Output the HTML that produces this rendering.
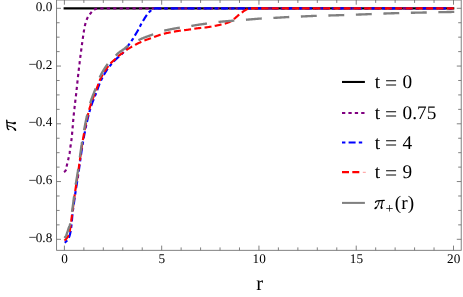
<!DOCTYPE html>
<html><head><meta charset="utf-8"><title>plot</title>
<style>html,body{margin:0;padding:0;background:#fff;}svg{display:block;}</style>
</head><body>
<div style="will-change:transform;width:463px;height:297px;background:#fff;overflow:hidden">
<svg width="463" height="297" viewBox="0 0 463 297" text-rendering="geometricPrecision">
<rect width="463" height="297" fill="#fff"/>
<g fill="none" stroke-linejoin="round">
<path d="M63.6,8.3 H454.3" stroke="#000" stroke-width="2.15"/>
<path d="M64.00,172.10 L64.42,171.75 L64.83,171.39 L65.20,171.02 L65.53,170.63 L65.82,170.23 L66.05,169.81 L66.21,169.38 L66.32,168.93 L66.41,168.45 L66.48,167.96 L66.54,167.45 L66.60,166.94 L66.67,166.42 L66.74,165.92 L66.84,165.42 L66.94,164.94 L67.07,164.45 L67.19,163.97 L67.33,163.48 L67.46,163.00 L67.60,162.52 L67.72,162.03 L67.84,161.54 L67.94,161.06 L68.05,160.57 L68.15,160.08 L68.25,159.58 L68.35,159.09 L68.46,158.60 L68.56,158.12 L68.68,157.63 L68.79,157.14 L68.91,156.65 L69.03,156.16 L69.14,155.68 L69.25,155.19 L69.35,154.70 L69.43,154.21 L69.52,153.71 L69.59,153.22 L69.67,152.73 L69.74,152.23 L69.81,151.73 L69.87,151.24 L69.94,150.74 L70.00,150.24 L70.07,149.75 L70.13,149.25 L70.19,148.75 L70.26,148.25 L70.32,147.76 L70.39,147.26 L70.46,146.77 L70.53,146.27 L70.61,145.78 L70.68,145.28 L70.76,144.78 L70.83,144.29 L70.91,143.79 L70.98,143.30 L71.06,142.80 L71.13,142.31 L71.20,141.81 L71.27,141.32 L71.34,140.82 L71.40,140.32 L71.46,139.83 L71.52,139.33 L71.58,138.83 L71.63,138.34 L71.69,137.84 L71.74,137.34 L71.79,136.84 L71.84,136.35 L71.89,135.85 L71.94,135.35 L71.99,134.85 L72.04,134.35 L72.08,133.86 L72.13,133.36 L72.18,132.86 L72.22,132.36 L72.27,131.86 L72.31,131.36 L72.35,130.86 L72.40,130.36 L72.44,129.87 L72.48,129.37 L72.52,128.87 L72.56,128.37 L72.60,127.87 L72.65,127.37 L72.69,126.87 L72.73,126.37 L72.77,125.87 L72.81,125.37 L72.85,124.87 L72.89,124.37 L72.93,123.87 L72.97,123.38 L73.01,122.88 L73.06,122.38 L73.10,121.88 L73.14,121.38 L73.18,120.88 L73.23,120.38 L73.27,119.88 L73.31,119.38 L73.36,118.88 L73.40,118.39 L73.45,117.89 L73.50,117.39 L73.54,116.89 L73.59,116.39 L73.64,115.89 L73.69,115.40 L73.74,114.90 L73.79,114.40 L73.84,113.90 L73.90,113.40 L73.95,112.91 L74.00,112.41 L74.06,111.91 L74.11,111.41 L74.17,110.91 L74.22,110.42 L74.28,109.92 L74.33,109.42 L74.39,108.92 L74.45,108.43 L74.50,107.93 L74.56,107.43 L74.62,106.94 L74.68,106.44 L74.74,105.94 L74.79,105.44 L74.85,104.95 L74.91,104.45 L74.97,103.95 L75.03,103.45 L75.09,102.96 L75.15,102.46 L75.21,101.96 L75.27,101.46 L75.32,100.97 L75.38,100.47 L75.44,99.97 L75.50,99.48 L75.56,98.98 L75.62,98.48 L75.68,97.98 L75.73,97.49 L75.79,96.99 L75.85,96.49 L75.91,95.99 L75.96,95.50 L76.02,95.00 L76.08,94.50 L76.13,94.00 L76.19,93.51 L76.24,93.01 L76.30,92.51 L76.35,92.01 L76.41,91.52 L76.46,91.02 L76.52,90.52 L76.57,90.02 L76.62,89.52 L76.68,89.03 L76.73,88.53 L76.78,88.03 L76.84,87.53 L76.89,87.04 L76.94,86.54 L76.99,86.04 L77.05,85.54 L77.10,85.04 L77.15,84.55 L77.20,84.05 L77.26,83.55 L77.31,83.05 L77.36,82.55 L77.41,82.06 L77.47,81.56 L77.52,81.06 L77.57,80.56 L77.62,80.06 L77.68,79.57 L77.73,79.07 L77.78,78.57 L77.84,78.07 L77.89,77.57 L77.94,77.08 L78.00,76.58 L78.05,76.08 L78.11,75.58 L78.16,75.09 L78.22,74.59 L78.27,74.09 L78.33,73.59 L78.38,73.10 L78.44,72.60 L78.49,72.10 L78.55,71.60 L78.61,71.11 L78.66,70.61 L78.72,70.11 L78.78,69.61 L78.84,69.12 L78.90,68.62 L78.96,68.12 L79.01,67.62 L79.07,67.13 L79.13,66.63 L79.19,66.13 L79.25,65.64 L79.31,65.14 L79.37,64.64 L79.43,64.14 L79.50,63.65 L79.56,63.15 L79.62,62.65 L79.68,62.16 L79.74,61.66 L79.80,61.16 L79.86,60.67 L79.93,60.17 L79.99,59.67 L80.05,59.18 L80.11,58.68 L80.18,58.18 L80.24,57.69 L80.30,57.19 L80.37,56.69 L80.43,56.20 L80.49,55.70 L80.56,55.20 L80.62,54.71 L80.69,54.21 L80.75,53.71 L80.81,53.22 L80.88,52.72 L80.94,52.22 L81.01,51.73 L81.07,51.23 L81.14,50.73 L81.20,50.24 L81.27,49.74 L81.33,49.24 L81.40,48.75 L81.46,48.25 L81.53,47.75 L81.59,47.26 L81.66,46.76 L81.72,46.27 L81.79,45.77 L81.86,45.27 L81.92,44.78 L81.99,44.28 L82.05,43.78 L82.12,43.29 L82.19,42.79 L82.25,42.29 L82.32,41.80 L82.39,41.30 L82.46,40.81 L82.53,40.31 L82.60,39.82 L82.67,39.32 L82.74,38.82 L82.82,38.33 L82.89,37.83 L82.96,37.34 L83.04,36.84 L83.11,36.35 L83.19,35.85 L83.26,35.36 L83.33,34.86 L83.40,34.36 L83.48,33.86 L83.55,33.37 L83.62,32.87 L83.70,32.37 L83.78,31.87 L83.85,31.38 L83.93,30.88 L84.01,30.39 L84.09,29.89 L84.18,29.40 L84.26,28.90 L84.35,28.41 L84.45,27.92 L84.54,27.43 L84.64,26.94 L84.74,26.46 L84.85,25.97 L84.96,25.49 L85.07,25.00 L85.19,24.52 L85.32,24.03 L85.45,23.55 L85.59,23.06 L85.73,22.57 L85.88,22.09 L86.03,21.60 L86.20,21.12 L86.36,20.64 L86.54,20.16 L86.71,19.69 L86.90,19.22 L87.09,18.76 L87.29,18.30 L87.49,17.85 L87.70,17.41 L87.92,16.97 L88.14,16.54 L88.39,16.11 L88.66,15.70 L88.95,15.29 L89.25,14.88 L89.57,14.49 L89.89,14.09 L90.22,13.70 L90.54,13.32 L90.87,12.94 L91.19,12.55 L91.52,12.17 L91.85,11.79 L92.20,11.41 L92.54,11.05 L92.91,10.70 L93.28,10.38 L93.66,10.08 L94.07,9.78 L94.50,9.50 L94.94,9.25 L95.39,9.04 L95.85,8.87 L96.33,8.71 L96.82,8.57 L97.31,8.48 L97.80,8.41 L98.30,8.36 L98.80,8.32 L99.31,8.30 L99.81,8.30 L100.31,8.30 L100.81,8.30 L101.31,8.30 L101.81,8.30 L102.30,8.30 L102.80,8.30 L103.30,8.30 L103.80,8.30 L104.30,8.30 L104.80,8.30 L105.30,8.30 L105.80,8.30 L106.30,8.30 L106.80,8.30 L107.30,8.30 L107.80,8.30 L108.30,8.30 L108.80,8.30 L109.30,8.30 L109.80,8.30 L110.30,8.30 L110.80,8.30 L111.30,8.30 L111.80,8.30 L112.30,8.30 L112.80,8.30 L113.30,8.30 L113.80,8.30 L114.30,8.30 L114.80,8.30 L115.30,8.30 L115.80,8.30 L116.30,8.30 L116.80,8.30 L117.30,8.30 L117.80,8.30 L118.30,8.30 L118.80,8.30 L119.30,8.30 L119.80,8.30 L120.30,8.30 L120.80,8.30 L121.30,8.30 L121.80,8.30 L122.30,8.30 L122.80,8.30 L123.30,8.30 L123.80,8.30 L124.30,8.30 L124.80,8.30 L125.30,8.30 L125.80,8.30 L126.30,8.30 L126.80,8.30 L127.30,8.30 L127.80,8.30 L128.30,8.30 L128.79,8.30 L129.29,8.30 L129.79,8.30 L130.29,8.30 L130.79,8.30 L131.29,8.30 L131.79,8.30 L132.29,8.30 L132.79,8.30 L133.29,8.30 L133.79,8.30 L134.29,8.30 L134.79,8.30 L135.29,8.30 L135.79,8.30 L136.29,8.30 L136.79,8.30 L137.29,8.30 L137.79,8.30 L138.29,8.30 L138.79,8.30 L139.29,8.30 L139.79,8.30 L140.29,8.30 L140.79,8.30 L141.29,8.30 L141.79,8.30 L142.29,8.30 L142.79,8.30 L143.29,8.30 L143.79,8.30 L144.29,8.30 L144.79,8.30 L145.29,8.30 L145.79,8.30 L146.29,8.30 L146.79,8.30 L147.29,8.30 L147.79,8.30 L148.29,8.30 L148.79,8.30 L149.29,8.30 L149.79,8.30 L150.29,8.30 L150.79,8.30 L151.29,8.30 L151.79,8.30 L152.29,8.30 L152.79,8.30 L153.29,8.30 L153.79,8.30 L154.29,8.30 L154.79,8.30 L155.29,8.30 L155.79,8.30 L156.29,8.30 L156.79,8.30 L157.29,8.30 L157.79,8.30 L158.29,8.30 L158.79,8.30 L159.29,8.30 L159.79,8.30 L160.29,8.30 L160.79,8.30 L161.29,8.30 L161.79,8.30 L162.29,8.30 L162.79,8.30 L163.29,8.30 L163.79,8.30 L164.29,8.30 L164.79,8.30 L165.29,8.30 L165.79,8.30 L166.29,8.30 L166.79,8.30 L167.29,8.30 L167.79,8.30 L168.29,8.30 L168.79,8.30 L169.29,8.30 L169.79,8.30 L170.29,8.30 L170.79,8.30 L171.29,8.30 L171.79,8.30 L172.29,8.30 L172.79,8.30 L173.29,8.30 L173.79,8.30 L174.29,8.30 L174.79,8.30 L175.29,8.30 L175.79,8.30 L176.29,8.30 L176.79,8.30 L177.29,8.30 L177.79,8.30 L178.29,8.30 L178.79,8.30 L179.29,8.30 L179.79,8.30 L180.29,8.30 L180.79,8.30 L181.29,8.30 L181.79,8.30 L182.29,8.30 L182.79,8.30 L183.29,8.30 L183.79,8.30 L184.29,8.30 L184.79,8.30 L185.29,8.30 L185.79,8.30 L186.29,8.30 L186.79,8.30 L187.29,8.30 L187.79,8.30 L188.29,8.30 L188.79,8.30 L189.29,8.30 L189.79,8.30 L190.29,8.30 L190.79,8.30 L191.29,8.30 L191.79,8.30 L192.29,8.30 L192.79,8.30 L193.29,8.30 L193.79,8.30 L194.29,8.30 L194.79,8.30 L195.29,8.30 L195.79,8.30 L196.29,8.30 L196.79,8.30 L197.29,8.30 L197.79,8.30 L198.29,8.30 L198.79,8.30 L199.29,8.30 L199.79,8.30 L200.29,8.30 L200.79,8.30 L201.29,8.30 L201.79,8.30 L202.29,8.30 L202.79,8.30 L203.29,8.30 L203.79,8.30 L204.29,8.30 L204.79,8.30 L205.29,8.30 L205.79,8.30 L206.30,8.30 L206.80,8.30 L207.30,8.30 L207.80,8.30 L208.30,8.30 L208.80,8.30 L209.30,8.30 L209.80,8.30 L210.30,8.30 L210.80,8.30 L211.30,8.30 L211.80,8.30 L212.30,8.30 L212.80,8.30 L213.30,8.30 L213.80,8.30 L214.30,8.30 L214.80,8.30 L215.30,8.30 L215.80,8.30 L216.30,8.30 L216.80,8.30 L217.30,8.30 L217.80,8.30 L218.30,8.30 L218.80,8.30 L219.30,8.30 L219.80,8.30 L220.30,8.30 L220.80,8.30 L221.30,8.30 L221.80,8.30 L222.30,8.30 L222.80,8.30 L223.30,8.30 L223.80,8.30 L224.30,8.30 L224.80,8.30 L225.30,8.30 L225.80,8.30 L226.30,8.30 L226.80,8.30 L227.30,8.30 L227.81,8.30 L228.31,8.30 L228.81,8.30 L229.31,8.30 L229.81,8.30 L230.31,8.30 L230.81,8.30 L231.31,8.30 L231.81,8.30 L232.31,8.30 L232.81,8.30 L233.31,8.30 L233.81,8.30 L234.31,8.30 L234.81,8.30 L235.31,8.30 L235.81,8.30 L236.31,8.30 L236.81,8.30 L237.31,8.30 L237.81,8.30 L238.31,8.30 L238.81,8.30 L239.31,8.30 L239.81,8.30 L240.31,8.30 L240.81,8.30 L241.31,8.30 L241.81,8.30 L242.31,8.30 L242.81,8.30 L243.32,8.30 L243.82,8.30 L244.32,8.30 L244.82,8.30 L245.32,8.30 L245.82,8.30 L246.32,8.30 L246.82,8.30 L247.32,8.30 L247.82,8.30 L248.32,8.30 L248.82,8.30 L249.32,8.30 L249.82,8.30 L250.32,8.30 L250.82,8.30 L251.32,8.30 L251.82,8.30 L252.32,8.30 L252.82,8.30 L253.32,8.30 L253.82,8.30 L254.32,8.30 L254.82,8.30 L255.33,8.30 L255.83,8.30 L256.33,8.30 L256.83,8.30 L257.33,8.30 L257.83,8.30 L258.33,8.30 L258.83,8.30 L259.33,8.30 L259.83,8.30 L260.33,8.30 L260.83,8.30 L261.33,8.30 L261.83,8.30 L262.33,8.30 L262.83,8.30 L263.33,8.30 L263.83,8.30 L264.33,8.30 L264.83,8.30 L265.33,8.30 L265.84,8.30 L266.34,8.30 L266.84,8.30 L267.34,8.30 L267.84,8.30 L268.34,8.30 L268.84,8.30 L269.34,8.30 L269.84,8.30 L270.34,8.30 L270.84,8.30 L271.34,8.30 L271.84,8.30 L272.34,8.30 L272.84,8.30 L273.34,8.30 L273.84,8.30 L274.34,8.30 L274.84,8.30 L275.35,8.30 L275.85,8.30 L276.35,8.30 L276.85,8.30 L277.35,8.30 L277.85,8.30 L278.35,8.30 L278.85,8.30 L279.35,8.30 L279.85,8.30 L280.35,8.30 L280.85,8.30 L281.35,8.30 L281.85,8.30 L282.35,8.30 L282.85,8.30 L283.36,8.30 L283.86,8.30 L284.36,8.30 L284.86,8.30 L285.36,8.30 L285.86,8.30 L286.36,8.30 L286.86,8.30 L287.36,8.30 L287.86,8.30 L288.36,8.30 L288.86,8.30 L289.36,8.30 L289.86,8.30 L290.36,8.30 L290.86,8.30 L291.37,8.30 L291.87,8.30 L292.37,8.30 L292.87,8.30 L293.37,8.30 L293.87,8.30 L294.37,8.30 L294.87,8.30 L295.37,8.30 L295.87,8.30 L296.37,8.30 L296.87,8.30 L297.37,8.30 L297.87,8.30 L298.38,8.30 L298.88,8.30 L299.38,8.30 L299.88,8.30 L300.38,8.30 L300.88,8.30 L301.38,8.30 L301.88,8.30 L302.38,8.30 L302.88,8.30 L303.38,8.30 L303.88,8.30 L304.38,8.30 L304.89,8.30 L305.39,8.30 L305.89,8.30 L306.39,8.30 L306.89,8.30 L307.39,8.30 L307.89,8.30 L308.39,8.30 L308.89,8.30 L309.39,8.30 L309.89,8.30 L310.39,8.30 L310.89,8.30 L311.40,8.30 L311.90,8.30 L312.40,8.30 L312.90,8.30 L313.40,8.30 L313.90,8.30 L314.40,8.30 L314.90,8.30 L315.40,8.30 L315.90,8.30 L316.40,8.30 L316.90,8.30 L317.41,8.30 L317.91,8.30 L318.41,8.30 L318.91,8.30 L319.41,8.30 L319.91,8.30 L320.41,8.30 L320.91,8.30 L321.41,8.30 L321.91,8.30 L322.41,8.30 L322.92,8.30 L323.42,8.30 L323.92,8.30 L324.42,8.30 L324.92,8.30 L325.42,8.30 L325.92,8.30 L326.42,8.30 L326.92,8.30 L327.42,8.30 L327.92,8.30 L328.43,8.30 L328.93,8.30 L329.43,8.30 L329.93,8.30 L330.43,8.30 L330.93,8.30 L331.43,8.30 L331.93,8.30 L332.43,8.30 L332.93,8.30 L333.44,8.30 L333.94,8.30 L334.44,8.30 L334.94,8.30 L335.44,8.30 L335.94,8.30 L336.44,8.30 L336.94,8.30 L337.44,8.30 L337.94,8.30 L338.45,8.30 L338.95,8.30 L339.45,8.30 L339.95,8.30 L340.45,8.30 L340.95,8.30 L341.45,8.30 L341.95,8.30 L342.45,8.30 L342.95,8.30 L343.46,8.30 L343.96,8.30 L344.46,8.30 L344.96,8.30 L345.46,8.30 L345.96,8.30 L346.46,8.30 L346.96,8.30 L347.46,8.30 L347.97,8.30 L348.47,8.30 L348.97,8.30 L349.47,8.30 L349.97,8.30 L350.47,8.30 L350.97,8.30 L351.47,8.30 L351.97,8.30 L352.48,8.30 L352.98,8.30 L353.48,8.30 L353.98,8.30 L354.48,8.30 L354.98,8.30 L355.48,8.30 L355.98,8.30 L356.48,8.30 L356.99,8.30 L357.49,8.30 L357.99,8.30 L358.49,8.30 L358.99,8.30 L359.49,8.30 L359.99,8.30 L360.49,8.30 L361.00,8.30 L361.50,8.30 L362.00,8.30 L362.50,8.30 L363.00,8.30 L363.50,8.30 L364.00,8.30 L364.50,8.30 L365.01,8.30 L365.51,8.30 L366.01,8.30 L366.51,8.30 L367.01,8.30 L367.51,8.30 L368.01,8.30 L368.51,8.30 L369.02,8.30 L369.52,8.30 L370.02,8.30 L370.52,8.30 L371.02,8.30 L371.52,8.30 L372.02,8.30 L372.52,8.30 L373.03,8.30 L373.53,8.30 L374.03,8.30 L374.53,8.30 L375.03,8.30 L375.53,8.30 L376.03,8.30 L376.54,8.30 L377.04,8.30 L377.54,8.30 L378.04,8.30 L378.54,8.30 L379.04,8.30 L379.54,8.30 L380.04,8.30 L380.55,8.30 L381.05,8.30 L381.55,8.30 L382.05,8.30 L382.55,8.30 L383.05,8.30 L383.55,8.30 L384.06,8.30 L384.56,8.30 L385.06,8.30 L385.56,8.30 L386.06,8.30 L386.56,8.30 L387.06,8.30 L387.57,8.30 L388.07,8.30 L388.57,8.30 L389.07,8.30 L389.57,8.30 L390.07,8.30 L390.57,8.30 L391.08,8.30 L391.58,8.30 L392.08,8.30 L392.58,8.30 L393.08,8.30 L393.58,8.30 L394.09,8.30 L394.59,8.30 L395.09,8.30 L395.59,8.30 L396.09,8.30 L396.59,8.30 L397.09,8.30 L397.60,8.30 L398.10,8.30 L398.60,8.30 L399.10,8.30 L399.60,8.30 L400.10,8.30 L400.61,8.30 L401.11,8.30 L401.61,8.30 L402.11,8.30 L402.61,8.30 L403.11,8.30 L403.61,8.30 L404.12,8.30 L404.62,8.30 L405.12,8.30 L405.62,8.30 L406.12,8.30 L406.62,8.30 L407.13,8.30 L407.63,8.30 L408.13,8.30 L408.63,8.30 L409.13,8.30 L409.63,8.30 L410.14,8.30 L410.64,8.30 L411.14,8.30 L411.64,8.30 L412.14,8.30 L412.64,8.30 L413.15,8.30 L413.65,8.30 L414.15,8.30 L414.65,8.30 L415.15,8.30 L415.65,8.30 L416.16,8.30 L416.66,8.30 L417.16,8.30 L417.66,8.30 L418.16,8.30 L418.66,8.30 L419.17,8.30 L419.67,8.30 L420.17,8.30 L420.67,8.30 L421.17,8.30 L421.67,8.30 L422.18,8.30 L422.68,8.30 L423.18,8.30 L423.68,8.30 L424.18,8.30 L424.69,8.30 L425.19,8.30 L425.69,8.30 L426.19,8.30 L426.69,8.30 L427.19,8.30 L427.70,8.30 L428.20,8.30 L428.70,8.30 L429.20,8.30 L429.70,8.30 L430.21,8.30 L430.71,8.30 L431.21,8.30 L431.71,8.30 L432.21,8.30 L432.71,8.30 L433.22,8.30 L433.72,8.30 L434.22,8.30 L434.72,8.30 L435.22,8.30 L435.73,8.30 L436.23,8.30 L436.73,8.30 L437.23,8.30 L437.73,8.30 L438.24,8.30 L438.74,8.30 L439.24,8.30 L439.74,8.30 L440.24,8.30 L440.75,8.30 L441.25,8.30 L441.75,8.30 L442.25,8.30 L442.75,8.30 L443.26,8.30 L443.76,8.30 L444.26,8.30 L444.76,8.30 L445.26,8.30 L445.77,8.30 L446.27,8.30 L446.77,8.30 L447.27,8.30 L447.77,8.30 L448.28,8.30 L448.78,8.30 L449.28,8.30 L449.78,8.30 L450.28,8.30 L450.79,8.30 L451.29,8.30 L451.79,8.30 L452.29,8.30 L452.79,8.30 L453.30,8.30 L453.80,8.30 L454.30,8.30" stroke="#800080" stroke-width="2.15" stroke-dasharray="3.2 3.24" stroke-dashoffset="0.00"/>
<path d="M64.60,242.60 L65.03,242.32 L65.44,242.03 L65.83,241.72 L66.20,241.39 L66.56,241.05 L66.91,240.69 L67.24,240.30 L67.56,239.91 L67.84,239.50 L68.09,239.08 L68.33,238.65 L68.56,238.20 L68.78,237.74 L68.99,237.28 L69.18,236.81 L69.36,236.34 L69.52,235.86 L69.66,235.39 L69.80,234.91 L69.93,234.43 L70.05,233.95 L70.17,233.46 L70.28,232.97 L70.38,232.48 L70.48,231.98 L70.58,231.49 L70.67,231.00 L70.75,230.50 L70.83,230.01 L70.91,229.52 L70.98,229.02 L71.05,228.53 L71.12,228.03 L71.19,227.53 L71.25,227.04 L71.31,226.54 L71.37,226.04 L71.43,225.54 L71.48,225.05 L71.54,224.55 L71.59,224.05 L71.64,223.55 L71.70,223.06 L71.74,222.56 L71.79,222.06 L71.84,221.56 L71.88,221.06 L71.92,220.56 L71.96,220.06 L72.00,219.57 L72.04,219.07 L72.09,218.57 L72.13,218.07 L72.17,217.57 L72.21,217.07 L72.26,216.57 L72.30,216.07 L72.35,215.58 L72.40,215.08 L72.46,214.58 L72.51,214.08 L72.57,213.59 L72.62,213.09 L72.68,212.59 L72.74,212.10 L72.80,211.60 L72.87,211.10 L72.93,210.61 L72.99,210.11 L73.06,209.62 L73.12,209.12 L73.19,208.62 L73.26,208.13 L73.33,207.63 L73.40,207.14 L73.47,206.64 L73.54,206.14 L73.60,205.65 L73.68,205.15 L73.75,204.66 L73.82,204.16 L73.89,203.67 L73.96,203.17 L74.03,202.67 L74.10,202.18 L74.17,201.68 L74.24,201.19 L74.30,200.69 L74.37,200.20 L74.44,199.70 L74.51,199.20 L74.58,198.71 L74.65,198.21 L74.71,197.72 L74.78,197.22 L74.85,196.72 L74.92,196.23 L74.99,195.73 L75.06,195.24 L75.13,194.74 L75.20,194.25 L75.27,193.75 L75.34,193.26 L75.41,192.76 L75.48,192.27 L75.56,191.77 L75.63,191.27 L75.70,190.78 L75.78,190.29 L75.85,189.79 L75.93,189.30 L76.01,188.80 L76.08,188.31 L76.16,187.81 L76.24,187.32 L76.32,186.82 L76.40,186.33 L76.48,185.84 L76.56,185.34 L76.64,184.85 L76.73,184.35 L76.81,183.86 L76.89,183.37 L76.97,182.87 L77.05,182.38 L77.13,181.89 L77.21,181.39 L77.29,180.90 L77.37,180.40 L77.45,179.91 L77.53,179.42 L77.61,178.92 L77.69,178.43 L77.77,177.93 L77.84,177.44 L77.92,176.94 L77.99,176.45 L78.07,175.95 L78.14,175.46 L78.21,174.96 L78.28,174.47 L78.35,173.97 L78.42,173.48 L78.49,172.98 L78.56,172.49 L78.63,171.99 L78.70,171.49 L78.77,171.00 L78.84,170.50 L78.91,170.01 L78.98,169.51 L79.04,169.02 L79.11,168.52 L79.18,168.02 L79.25,167.53 L79.31,167.03 L79.38,166.54 L79.45,166.04 L79.52,165.54 L79.59,165.05 L79.66,164.55 L79.72,164.06 L79.79,163.56 L79.86,163.07 L79.93,162.57 L80.00,162.08 L80.07,161.58 L80.15,161.08 L80.22,160.59 L80.29,160.09 L80.36,159.60 L80.43,159.10 L80.50,158.61 L80.57,158.11 L80.64,157.62 L80.71,157.12 L80.78,156.63 L80.85,156.13 L80.92,155.63 L81.00,155.14 L81.07,154.64 L81.14,154.15 L81.21,153.65 L81.28,153.16 L81.35,152.66 L81.43,152.17 L81.50,151.67 L81.57,151.18 L81.65,150.68 L81.72,150.19 L81.80,149.69 L81.87,149.20 L81.95,148.70 L82.02,148.21 L82.10,147.71 L82.18,147.22 L82.26,146.72 L82.33,146.23 L82.41,145.74 L82.49,145.24 L82.58,144.75 L82.66,144.26 L82.74,143.76 L82.82,143.27 L82.91,142.78 L82.99,142.28 L83.07,141.79 L83.16,141.29 L83.24,140.80 L83.33,140.31 L83.41,139.82 L83.50,139.32 L83.59,138.83 L83.67,138.34 L83.76,137.84 L83.85,137.35 L83.94,136.86 L84.03,136.36 L84.12,135.87 L84.21,135.38 L84.30,134.89 L84.39,134.39 L84.49,133.90 L84.58,133.41 L84.67,132.92 L84.77,132.43 L84.86,131.94 L84.96,131.44 L85.05,130.95 L85.15,130.46 L85.25,129.97 L85.35,129.48 L85.45,128.99 L85.55,128.50 L85.65,128.01 L85.75,127.52 L85.85,127.03 L85.95,126.54 L86.05,126.05 L86.16,125.56 L86.26,125.07 L86.37,124.58 L86.47,124.10 L86.58,123.61 L86.69,123.12 L86.80,122.63 L86.90,122.14 L87.01,121.65 L87.12,121.16 L87.23,120.67 L87.35,120.18 L87.46,119.70 L87.57,119.21 L87.69,118.72 L87.80,118.23 L87.92,117.74 L88.04,117.26 L88.15,116.77 L88.27,116.28 L88.40,115.79 L88.52,115.31 L88.64,114.82 L88.76,114.34 L88.89,113.85 L89.02,113.37 L89.15,112.88 L89.27,112.40 L89.41,111.92 L89.54,111.44 L89.67,110.95 L89.81,110.47 L89.94,109.99 L90.08,109.51 L90.22,109.03 L90.36,108.56 L90.51,108.08 L90.65,107.60 L90.80,107.13 L90.95,106.65 L91.11,106.18 L91.27,105.71 L91.43,105.24 L91.60,104.76 L91.77,104.29 L91.94,103.82 L92.11,103.35 L92.29,102.89 L92.46,102.42 L92.64,101.95 L92.82,101.48 L93.00,101.02 L93.19,100.55 L93.37,100.08 L93.55,99.62 L93.74,99.15 L93.93,98.68 L94.11,98.22 L94.30,97.75 L94.49,97.29 L94.67,96.82 L94.86,96.36 L95.05,95.89 L95.23,95.42 L95.41,94.96 L95.60,94.49 L95.78,94.02 L95.96,93.56 L96.14,93.09 L96.32,92.62 L96.49,92.15 L96.67,91.68 L96.84,91.21 L97.01,90.74 L97.18,90.27 L97.34,89.79 L97.51,89.32 L97.68,88.85 L97.84,88.37 L98.01,87.90 L98.18,87.43 L98.35,86.96 L98.52,86.48 L98.69,86.01 L98.87,85.55 L99.05,85.08 L99.23,84.61 L99.41,84.15 L99.60,83.69 L99.79,83.23 L99.98,82.77 L100.18,82.31 L100.39,81.86 L100.59,81.40 L100.80,80.95 L101.01,80.50 L101.23,80.05 L101.45,79.59 L101.67,79.14 L101.89,78.69 L102.12,78.24 L102.35,77.80 L102.58,77.35 L102.81,76.90 L103.05,76.46 L103.29,76.02 L103.53,75.58 L103.77,75.14 L104.02,74.70 L104.27,74.26 L104.52,73.83 L104.78,73.40 L105.03,72.97 L105.29,72.54 L105.55,72.11 L105.81,71.69 L106.08,71.26 L106.34,70.85 L106.61,70.43 L106.88,70.01 L107.16,69.60 L107.45,69.19 L107.73,68.78 L108.03,68.37 L108.32,67.97 L108.62,67.57 L108.93,67.17 L109.23,66.77 L109.54,66.37 L109.86,65.98 L110.17,65.59 L110.49,65.20 L110.81,64.81 L111.13,64.43 L111.45,64.04 L111.78,63.66 L112.10,63.28 L112.43,62.91 L112.76,62.54 L113.10,62.17 L113.44,61.80 L113.79,61.44 L114.13,61.07 L114.48,60.72 L114.84,60.36 L115.19,60.00 L115.54,59.65 L115.90,59.30 L116.26,58.95 L116.62,58.61 L116.99,58.27 L117.37,57.93 L117.75,57.60 L118.13,57.27 L118.52,56.95 L118.90,56.62 L119.29,56.30 L119.67,55.97 L120.06,55.64 L120.44,55.32 L120.81,54.98 L121.18,54.65 L121.54,54.31 L121.90,53.96 L122.25,53.61 L122.59,53.25 L122.92,52.88 L123.23,52.51 L123.54,52.12 L123.85,51.73 L124.14,51.33 L124.43,50.92 L124.72,50.51 L125.00,50.09 L125.28,49.67 L125.56,49.25 L125.83,48.83 L126.11,48.41 L126.39,47.99 L126.67,47.57 L126.96,47.16 L127.25,46.75 L127.54,46.34 L127.84,45.95 L128.15,45.55 L128.46,45.16 L128.77,44.76 L129.07,44.37 L129.38,43.97 L129.68,43.57 L129.97,43.16 L130.25,42.75 L130.54,42.34 L130.81,41.92 L131.09,41.51 L131.37,41.09 L131.65,40.68 L131.94,40.26 L132.22,39.85 L132.51,39.44 L132.79,39.03 L133.07,38.61 L133.33,38.19 L133.59,37.76 L133.85,37.33 L134.10,36.90 L134.35,36.46 L134.60,36.03 L134.85,35.59 L135.10,35.16 L135.35,34.73 L135.61,34.30 L135.86,33.87 L136.12,33.44 L136.38,33.01 L136.63,32.58 L136.89,32.15 L137.14,31.71 L137.39,31.28 L137.65,30.85 L137.89,30.42 L138.14,29.98 L138.39,29.54 L138.63,29.11 L138.86,28.67 L139.10,28.22 L139.32,27.78 L139.54,27.33 L139.76,26.88 L139.98,26.43 L140.20,25.98 L140.42,25.53 L140.65,25.08 L140.89,24.64 L141.13,24.21 L141.38,23.77 L141.63,23.34 L141.88,22.90 L142.13,22.47 L142.39,22.04 L142.65,21.61 L142.91,21.19 L143.17,20.76 L143.42,20.33 L143.68,19.90 L143.94,19.47 L144.20,19.03 L144.46,18.60 L144.72,18.18 L144.98,17.75 L145.25,17.32 L145.52,16.90 L145.79,16.48 L146.07,16.07 L146.35,15.66 L146.64,15.25 L146.94,14.85 L147.23,14.45 L147.54,14.05 L147.85,13.65 L148.16,13.25 L148.49,12.86 L148.82,12.48 L149.16,12.11 L149.51,11.76 L149.87,11.43 L150.24,11.10 L150.62,10.77 L151.02,10.44 L151.42,10.12 L151.84,9.81 L152.27,9.52 L152.70,9.27 L153.14,9.04 L153.59,8.87 L154.05,8.73 L154.53,8.60 L155.02,8.48 L155.52,8.39 L156.03,8.32 L156.53,8.30 L157.02,8.30 L157.52,8.30 L158.01,8.30 L158.51,8.30 L159.00,8.30 L159.50,8.30 L159.99,8.30 L160.49,8.30 L160.98,8.30 L161.48,8.30 L161.97,8.30 L162.47,8.30 L162.96,8.30 L163.46,8.30 L163.95,8.30 L164.45,8.30 L164.94,8.30 L165.44,8.30 L165.93,8.30 L166.43,8.30 L166.92,8.30 L167.42,8.30 L167.91,8.30 L168.41,8.30 L168.90,8.30 L169.40,8.30 L169.89,8.30 L170.39,8.30 L170.88,8.30 L171.38,8.30 L171.87,8.30 L172.37,8.30 L172.86,8.30 L173.36,8.30 L173.85,8.30 L174.35,8.30 L174.85,8.30 L175.34,8.30 L175.84,8.30 L176.33,8.30 L176.83,8.30 L177.32,8.30 L177.82,8.30 L178.31,8.30 L178.81,8.30 L179.30,8.30 L179.80,8.30 L180.29,8.30 L180.79,8.30 L181.28,8.30 L181.78,8.30 L182.28,8.30 L182.77,8.30 L183.27,8.30 L183.76,8.30 L184.26,8.30 L184.75,8.30 L185.25,8.30 L185.74,8.30 L186.24,8.30 L186.73,8.30 L187.23,8.30 L187.73,8.30 L188.22,8.30 L188.72,8.30 L189.21,8.30 L189.71,8.30 L190.20,8.30 L190.70,8.30 L191.20,8.30 L191.69,8.30 L192.19,8.30 L192.68,8.30 L193.18,8.30 L193.67,8.30 L194.17,8.30 L194.67,8.30 L195.16,8.30 L195.66,8.30 L196.15,8.30 L196.65,8.30 L197.14,8.30 L197.64,8.30 L198.14,8.30 L198.63,8.30 L199.13,8.30 L199.62,8.30 L200.12,8.30 L200.62,8.30 L201.11,8.30 L201.61,8.30 L202.10,8.30 L202.60,8.30 L203.10,8.30 L203.59,8.30 L204.09,8.30 L204.58,8.30 L205.08,8.30 L205.58,8.30 L206.07,8.30 L206.57,8.30 L207.06,8.30 L207.56,8.30 L208.06,8.30 L208.55,8.30 L209.05,8.30 L209.54,8.30 L210.04,8.30 L210.54,8.30 L211.03,8.30 L211.53,8.30 L212.03,8.30 L212.52,8.30 L213.02,8.30 L213.51,8.30 L214.01,8.30 L214.51,8.30 L215.00,8.30 L215.50,8.30 L216.00,8.30 L216.49,8.30 L216.99,8.30 L217.48,8.30 L217.98,8.30 L218.48,8.30 L218.97,8.30 L219.47,8.30 L219.97,8.30 L220.46,8.30 L220.96,8.30 L221.46,8.30 L221.95,8.30 L222.45,8.30 L222.95,8.30 L223.44,8.30 L223.94,8.30 L224.44,8.30 L224.93,8.30 L225.43,8.30 L225.93,8.30 L226.42,8.30 L226.92,8.30 L227.42,8.30 L227.91,8.30 L228.41,8.30 L228.91,8.30 L229.40,8.30 L229.90,8.30 L230.40,8.30 L230.89,8.30 L231.39,8.30 L231.89,8.30 L232.38,8.30 L232.88,8.30 L233.38,8.30 L233.87,8.30 L234.37,8.30 L234.87,8.30 L235.37,8.30 L235.86,8.30 L236.36,8.30 L236.86,8.30 L237.35,8.30 L237.85,8.30 L238.35,8.30 L238.85,8.30 L239.34,8.30 L239.84,8.30 L240.34,8.30 L240.83,8.30 L241.33,8.30 L241.83,8.30 L242.33,8.30 L242.82,8.30 L243.32,8.30 L243.82,8.30 L244.31,8.30 L244.81,8.30 L245.31,8.30 L245.81,8.30 L246.30,8.30 L246.80,8.30 L247.30,8.30 L247.80,8.30 L248.29,8.30 L248.79,8.30 L249.29,8.30 L249.79,8.30 L250.28,8.30 L250.78,8.30 L251.28,8.30 L251.78,8.30 L252.27,8.30 L252.77,8.30 L253.27,8.30 L253.77,8.30 L254.26,8.30 L254.76,8.30 L255.26,8.30 L255.76,8.30 L256.25,8.30 L256.75,8.30 L257.25,8.30 L257.75,8.30 L258.25,8.30 L258.74,8.30 L259.24,8.30 L259.74,8.30 L260.24,8.30 L260.74,8.30 L261.23,8.30 L261.73,8.30 L262.23,8.30 L262.73,8.30 L263.23,8.30 L263.72,8.30 L264.22,8.30 L264.72,8.30 L265.22,8.30 L265.72,8.30 L266.21,8.30 L266.71,8.30 L267.21,8.30 L267.71,8.30 L268.21,8.30 L268.70,8.30 L269.20,8.30 L269.70,8.30 L270.20,8.30 L270.70,8.30 L271.20,8.30 L271.69,8.30 L272.19,8.30 L272.69,8.30 L273.19,8.30 L273.69,8.30 L274.19,8.30 L274.68,8.30 L275.18,8.30 L275.68,8.30 L276.18,8.30 L276.68,8.30 L277.18,8.30 L277.68,8.30 L278.17,8.30 L278.67,8.30 L279.17,8.30 L279.67,8.30 L280.17,8.30 L280.67,8.30 L281.17,8.30 L281.67,8.30 L282.16,8.30 L282.66,8.30 L283.16,8.30 L283.66,8.30 L284.16,8.30 L284.66,8.30 L285.16,8.30 L285.66,8.30 L286.16,8.30 L286.65,8.30 L287.15,8.30 L287.65,8.30 L288.15,8.30 L288.65,8.30 L289.15,8.30 L289.65,8.30 L290.15,8.30 L290.65,8.30 L291.15,8.30 L291.65,8.30 L292.14,8.30 L292.64,8.30 L293.14,8.30 L293.64,8.30 L294.14,8.30 L294.64,8.30 L295.14,8.30 L295.64,8.30 L296.14,8.30 L296.64,8.30 L297.14,8.30 L297.64,8.30 L298.14,8.30 L298.64,8.30 L299.14,8.30 L299.64,8.30 L300.13,8.30 L300.63,8.30 L301.13,8.30 L301.63,8.30 L302.13,8.30 L302.63,8.30 L303.13,8.30 L303.63,8.30 L304.13,8.30 L304.63,8.30 L305.13,8.30 L305.63,8.30 L306.13,8.30 L306.63,8.30 L307.13,8.30 L307.63,8.30 L308.13,8.30 L308.63,8.30 L309.13,8.30 L309.63,8.30 L310.13,8.30 L310.63,8.30 L311.13,8.30 L311.63,8.30 L312.13,8.30 L312.63,8.30 L313.13,8.30 L313.63,8.30 L314.13,8.30 L314.63,8.30 L315.13,8.30 L315.63,8.30 L316.13,8.30 L316.63,8.30 L317.13,8.30 L317.63,8.30 L318.14,8.30 L318.64,8.30 L319.14,8.30 L319.64,8.30 L320.14,8.30 L320.64,8.30 L321.14,8.30 L321.64,8.30 L322.14,8.30 L322.64,8.30 L323.14,8.30 L323.64,8.30 L324.14,8.30 L324.64,8.30 L325.14,8.30 L325.64,8.30 L326.15,8.30 L326.65,8.30 L327.15,8.30 L327.65,8.30 L328.15,8.30 L328.65,8.30 L329.15,8.30 L329.65,8.30 L330.15,8.30 L330.65,8.30 L331.15,8.30 L331.66,8.30 L332.16,8.30 L332.66,8.30 L333.16,8.30 L333.66,8.30 L334.16,8.30 L334.66,8.30 L335.16,8.30 L335.67,8.30 L336.17,8.30 L336.67,8.30 L337.17,8.30 L337.67,8.30 L338.17,8.30 L338.67,8.30 L339.18,8.30 L339.68,8.30 L340.18,8.30 L340.68,8.30 L341.18,8.30 L341.68,8.30 L342.19,8.30 L342.69,8.30 L343.19,8.30 L343.69,8.30 L344.19,8.30 L344.69,8.30 L345.20,8.30 L345.70,8.30 L346.20,8.30 L346.70,8.30 L347.20,8.30 L347.71,8.30 L348.21,8.30 L348.71,8.30 L349.21,8.30 L349.71,8.30 L350.22,8.30 L350.72,8.30 L351.22,8.30 L351.72,8.30 L352.22,8.30 L352.73,8.30 L353.23,8.30 L353.73,8.30 L354.23,8.30 L354.74,8.30 L355.24,8.30 L355.74,8.30 L356.24,8.30 L356.75,8.30 L357.25,8.30 L357.75,8.30 L358.25,8.30 L358.76,8.30 L359.26,8.30 L359.76,8.30 L360.26,8.30 L360.77,8.30 L361.27,8.30 L361.77,8.30 L362.27,8.30 L362.78,8.30 L363.28,8.30 L363.78,8.30 L364.29,8.30 L364.79,8.30 L365.29,8.30 L365.79,8.30 L366.30,8.30 L366.80,8.30 L367.30,8.30 L367.81,8.30 L368.31,8.30 L368.81,8.30 L369.32,8.30 L369.82,8.30 L370.32,8.30 L370.83,8.30 L371.33,8.30 L371.83,8.30 L372.34,8.30 L372.84,8.30 L373.34,8.30 L373.85,8.30 L374.35,8.30 L374.85,8.30 L375.36,8.30 L375.86,8.30 L376.36,8.30 L376.87,8.30 L377.37,8.30 L377.87,8.30 L378.38,8.30 L378.88,8.30 L379.39,8.30 L379.89,8.30 L380.39,8.30 L380.90,8.30 L381.40,8.30 L381.90,8.30 L382.41,8.30 L382.91,8.30 L383.42,8.30 L383.92,8.30 L384.42,8.30 L384.93,8.30 L385.43,8.30 L385.94,8.30 L386.44,8.30 L386.95,8.30 L387.45,8.30 L387.95,8.30 L388.46,8.30 L388.96,8.30 L389.47,8.30 L389.97,8.30 L390.48,8.30 L390.98,8.30 L391.48,8.30 L391.99,8.30 L392.49,8.30 L393.00,8.30 L393.50,8.30 L394.01,8.30 L394.51,8.30 L395.02,8.30 L395.52,8.30 L396.03,8.30 L396.53,8.30 L397.04,8.30 L397.54,8.30 L398.05,8.30 L398.55,8.30 L399.06,8.30 L399.56,8.30 L400.07,8.30 L400.57,8.30 L401.08,8.30 L401.58,8.30 L402.09,8.30 L402.59,8.30 L403.10,8.30 L403.60,8.30 L404.11,8.30 L404.61,8.30 L405.12,8.30 L405.62,8.30 L406.13,8.30 L406.63,8.30 L407.14,8.30 L407.65,8.30 L408.15,8.30 L408.66,8.30 L409.16,8.30 L409.67,8.30 L410.17,8.30 L410.68,8.30 L411.19,8.30 L411.69,8.30 L412.20,8.30 L412.70,8.30 L413.21,8.30 L413.71,8.30 L414.22,8.30 L414.73,8.30 L415.23,8.30 L415.74,8.30 L416.24,8.30 L416.75,8.30 L417.26,8.30 L417.76,8.30 L418.27,8.30 L418.78,8.30 L419.28,8.30 L419.79,8.30 L420.29,8.30 L420.80,8.30 L421.31,8.30 L421.81,8.30 L422.32,8.30 L422.83,8.30 L423.33,8.30 L423.84,8.30 L424.35,8.30 L424.85,8.30 L425.36,8.30 L425.87,8.30 L426.37,8.30 L426.88,8.30 L427.39,8.30 L427.89,8.30 L428.40,8.30 L428.91,8.30 L429.41,8.30 L429.92,8.30 L430.43,8.30 L430.94,8.30 L431.44,8.30 L431.95,8.30 L432.46,8.30 L432.96,8.30 L433.47,8.30 L433.98,8.30 L434.49,8.30 L434.99,8.30 L435.50,8.30 L436.01,8.30 L436.52,8.30 L437.02,8.30 L437.53,8.30 L438.04,8.30 L438.55,8.30 L439.05,8.30 L439.56,8.30 L440.07,8.30 L440.58,8.30 L441.08,8.30 L441.59,8.30 L442.10,8.30 L442.61,8.30 L443.12,8.30 L443.62,8.30 L444.13,8.30 L444.64,8.30 L445.15,8.30 L445.66,8.30 L446.16,8.30 L446.67,8.30 L447.18,8.30 L447.69,8.30 L448.20,8.30 L448.71,8.30 L449.21,8.30 L449.72,8.30 L450.23,8.30 L450.74,8.30 L451.25,8.30 L451.76,8.30 L452.27,8.30 L452.77,8.30 L453.28,8.30 L453.79,8.30 L454.30,8.30" stroke="#0000ff" stroke-width="2.15" stroke-dasharray="3.4 3.1014 7.15 3.1014" stroke-dashoffset="0.00"/>
<path d="M64.30,240.40 L64.71,240.11 L65.11,239.80 L65.49,239.48 L65.86,239.14 L66.21,238.79 L66.55,238.42 L66.88,238.03 L67.18,237.63 L67.45,237.22 L67.69,236.79 L67.93,236.35 L68.15,235.90 L68.36,235.43 L68.55,234.96 L68.73,234.49 L68.90,234.02 L69.06,233.54 L69.20,233.07 L69.33,232.59 L69.46,232.11 L69.58,231.62 L69.69,231.13 L69.80,230.64 L69.91,230.15 L70.00,229.65 L70.10,229.16 L70.19,228.67 L70.27,228.17 L70.35,227.68 L70.43,227.19 L70.50,226.69 L70.57,226.20 L70.63,225.70 L70.69,225.20 L70.75,224.71 L70.81,224.21 L70.87,223.71 L70.93,223.21 L70.99,222.72 L71.05,222.22 L71.11,221.72 L71.17,221.22 L71.24,220.73 L71.30,220.23 L71.37,219.74 L71.44,219.24 L71.50,218.74 L71.57,218.25 L71.64,217.75 L71.71,217.26 L71.78,216.76 L71.84,216.26 L71.91,215.77 L71.98,215.27 L72.05,214.78 L72.12,214.28 L72.18,213.78 L72.25,213.29 L72.32,212.79 L72.39,212.30 L72.45,211.80 L72.52,211.30 L72.59,210.81 L72.65,210.31 L72.72,209.82 L72.78,209.32 L72.85,208.82 L72.91,208.33 L72.98,207.83 L73.04,207.33 L73.11,206.84 L73.17,206.34 L73.24,205.85 L73.30,205.35 L73.37,204.85 L73.43,204.36 L73.50,203.86 L73.56,203.36 L73.63,202.87 L73.69,202.37 L73.76,201.88 L73.82,201.38 L73.89,200.88 L73.96,200.39 L74.02,199.89 L74.09,199.39 L74.16,198.90 L74.22,198.40 L74.29,197.91 L74.36,197.41 L74.43,196.91 L74.49,196.42 L74.56,195.92 L74.63,195.43 L74.70,194.93 L74.77,194.44 L74.84,193.94 L74.90,193.44 L74.97,192.95 L75.04,192.45 L75.11,191.96 L75.18,191.46 L75.25,190.97 L75.32,190.47 L75.40,189.97 L75.47,189.48 L75.54,188.98 L75.61,188.49 L75.69,187.99 L75.76,187.50 L75.84,187.00 L75.91,186.51 L75.99,186.01 L76.07,185.52 L76.14,185.03 L76.22,184.53 L76.30,184.04 L76.38,183.54 L76.46,183.05 L76.54,182.56 L76.63,182.06 L76.71,181.57 L76.79,181.07 L76.87,180.58 L76.95,180.09 L77.03,179.59 L77.11,179.10 L77.19,178.60 L77.28,178.11 L77.36,177.62 L77.44,177.12 L77.51,176.63 L77.59,176.13 L77.67,175.64 L77.75,175.14 L77.83,174.65 L77.90,174.15 L77.98,173.66 L78.05,173.16 L78.12,172.67 L78.20,172.17 L78.27,171.68 L78.34,171.18 L78.41,170.69 L78.48,170.19 L78.55,169.70 L78.62,169.20 L78.69,168.71 L78.76,168.21 L78.82,167.71 L78.89,167.22 L78.96,166.72 L79.03,166.23 L79.10,165.73 L79.16,165.23 L79.23,164.74 L79.30,164.24 L79.37,163.75 L79.44,163.25 L79.50,162.75 L79.57,162.26 L79.64,161.76 L79.71,161.27 L79.78,160.77 L79.85,160.28 L79.92,159.78 L79.99,159.28 L80.06,158.79 L80.13,158.29 L80.20,157.80 L80.27,157.30 L80.34,156.81 L80.41,156.31 L80.48,155.82 L80.56,155.32 L80.63,154.82 L80.70,154.33 L80.77,153.83 L80.84,153.34 L80.91,152.84 L80.98,152.35 L81.05,151.85 L81.12,151.36 L81.19,150.86 L81.27,150.36 L81.34,149.87 L81.41,149.37 L81.48,148.88 L81.56,148.38 L81.63,147.89 L81.71,147.39 L81.78,146.90 L81.85,146.40 L81.93,145.91 L82.01,145.41 L82.08,144.92 L82.16,144.42 L82.24,143.93 L82.32,143.44 L82.40,142.94 L82.48,142.45 L82.56,141.95 L82.64,141.46 L82.72,140.97 L82.80,140.47 L82.89,139.98 L82.97,139.49 L83.05,138.99 L83.14,138.50 L83.22,138.01 L83.31,137.51 L83.40,137.02 L83.48,136.53 L83.57,136.03 L83.66,135.54 L83.74,135.05 L83.83,134.55 L83.92,134.06 L84.01,133.57 L84.10,133.08 L84.19,132.58 L84.28,132.09 L84.37,131.60 L84.47,131.11 L84.56,130.61 L84.65,130.12 L84.75,129.63 L84.84,129.14 L84.94,128.65 L85.03,128.16 L85.13,127.67 L85.23,127.17 L85.33,126.68 L85.43,126.19 L85.52,125.70 L85.62,125.21 L85.73,124.72 L85.83,124.23 L85.93,123.74 L86.03,123.25 L86.14,122.76 L86.24,122.27 L86.35,121.79 L86.45,121.30 L86.56,120.81 L86.67,120.32 L86.77,119.83 L86.88,119.34 L86.99,118.85 L87.10,118.36 L87.21,117.87 L87.32,117.39 L87.44,116.90 L87.55,116.41 L87.66,115.92 L87.78,115.43 L87.89,114.94 L88.01,114.46 L88.13,113.97 L88.25,113.48 L88.37,112.99 L88.49,112.51 L88.61,112.02 L88.74,111.54 L88.86,111.05 L88.99,110.57 L89.12,110.08 L89.25,109.60 L89.38,109.12 L89.51,108.63 L89.64,108.15 L89.78,107.67 L89.92,107.19 L90.05,106.71 L90.19,106.23 L90.33,105.75 L90.48,105.28 L90.62,104.80 L90.77,104.32 L90.92,103.85 L91.08,103.38 L91.24,102.90 L91.40,102.43 L91.57,101.96 L91.73,101.49 L91.90,101.02 L92.08,100.55 L92.25,100.08 L92.43,99.61 L92.60,99.14 L92.78,98.68 L92.97,98.21 L93.15,97.74 L93.33,97.28 L93.52,96.81 L93.70,96.34 L93.89,95.88 L94.08,95.41 L94.26,94.95 L94.45,94.48 L94.64,94.01 L94.82,93.55 L95.01,93.08 L95.19,92.62 L95.38,92.15 L95.56,91.68 L95.74,91.22 L95.93,90.75 L96.10,90.28 L96.28,89.81 L96.46,89.34 L96.63,88.87 L96.80,88.40 L96.97,87.93 L97.14,87.46 L97.31,86.98 L97.47,86.51 L97.64,86.03 L97.80,85.56 L97.97,85.08 L98.13,84.61 L98.30,84.14 L98.47,83.66 L98.64,83.19 L98.82,82.72 L98.99,82.26 L99.18,81.79 L99.36,81.33 L99.55,80.87 L99.74,80.41 L99.94,79.95 L100.14,79.50 L100.35,79.05 L100.57,78.60 L100.79,78.16 L101.01,77.71 L101.24,77.26 L101.47,76.82 L101.70,76.38 L101.94,75.94 L102.19,75.50 L102.43,75.06 L102.68,74.62 L102.94,74.19 L103.19,73.75 L103.45,73.32 L103.71,72.89 L103.98,72.46 L104.24,72.04 L104.51,71.61 L104.78,71.19 L105.06,70.77 L105.33,70.35 L105.61,69.93 L105.88,69.51 L106.16,69.10 L106.44,68.69 L106.72,68.28 L107.01,67.87 L107.30,67.46 L107.60,67.05 L107.90,66.65 L108.20,66.25 L108.51,65.85 L108.82,65.46 L109.14,65.07 L109.46,64.68 L109.78,64.30 L110.11,63.92 L110.44,63.55 L110.78,63.19 L111.13,62.83 L111.48,62.48 L111.84,62.14 L112.21,61.79 L112.57,61.46 L112.95,61.12 L113.32,60.78 L113.69,60.45 L114.07,60.11 L114.44,59.78 L114.81,59.44 L115.18,59.10 L115.54,58.75 L115.90,58.40 L116.25,58.04 L116.60,57.68 L116.95,57.32 L117.30,56.96 L117.66,56.61 L118.03,56.29 L118.41,55.97 L118.80,55.66 L119.20,55.36 L119.60,55.06 L120.01,54.77 L120.42,54.49 L120.84,54.20 L121.25,53.92 L121.67,53.64 L122.09,53.36 L122.50,53.08 L122.92,52.79 L123.32,52.50 L123.73,52.20 L124.13,51.90 L124.52,51.59 L124.91,51.27 L125.30,50.95 L125.68,50.64 L126.07,50.32 L126.47,50.02 L126.87,49.72 L127.28,49.44 L127.69,49.16 L128.11,48.88 L128.53,48.61 L128.96,48.34 L129.38,48.08 L129.81,47.82 L130.24,47.56 L130.68,47.31 L131.11,47.05 L131.54,46.80 L131.98,46.56 L132.41,46.31 L132.85,46.07 L133.29,45.82 L133.73,45.58 L134.17,45.35 L134.61,45.11 L135.05,44.88 L135.50,44.64 L135.94,44.41 L136.39,44.19 L136.84,43.96 L137.28,43.74 L137.73,43.52 L138.18,43.30 L138.63,43.09 L139.09,42.88 L139.54,42.66 L140.00,42.45 L140.45,42.25 L140.91,42.04 L141.37,41.84 L141.82,41.64 L142.28,41.44 L142.75,41.24 L143.21,41.05 L143.67,40.85 L144.13,40.66 L144.60,40.48 L145.06,40.29 L145.53,40.11 L146.00,39.94 L146.47,39.77 L146.94,39.60 L147.41,39.43 L147.88,39.27 L148.36,39.11 L148.83,38.94 L149.30,38.78 L149.78,38.61 L150.25,38.44 L150.71,38.26 L151.18,38.09 L151.65,37.91 L152.12,37.74 L152.59,37.56 L153.06,37.39 L153.53,37.21 L154.00,37.03 L154.47,36.86 L154.93,36.69 L155.40,36.51 L155.88,36.34 L156.35,36.18 L156.82,36.00 L157.29,35.83 L157.76,35.66 L158.23,35.49 L158.70,35.31 L159.17,35.14 L159.65,34.98 L160.12,34.81 L160.59,34.66 L161.07,34.50 L161.55,34.36 L162.03,34.22 L162.51,34.09 L162.99,33.96 L163.47,33.84 L163.96,33.71 L164.44,33.60 L164.93,33.48 L165.42,33.37 L165.91,33.26 L166.40,33.15 L166.89,33.04 L167.38,32.94 L167.87,32.83 L168.36,32.73 L168.85,32.63 L169.34,32.53 L169.83,32.43 L170.32,32.34 L170.81,32.24 L171.31,32.14 L171.80,32.05 L172.29,31.95 L172.78,31.86 L173.27,31.76 L173.76,31.67 L174.26,31.58 L174.75,31.49 L175.24,31.40 L175.74,31.32 L176.23,31.23 L176.72,31.15 L177.22,31.07 L177.71,30.99 L178.21,30.92 L178.70,30.84 L179.20,30.77 L179.69,30.70 L180.19,30.64 L180.68,30.58 L181.18,30.52 L181.68,30.46 L182.18,30.40 L182.67,30.35 L183.17,30.29 L183.67,30.24 L184.17,30.18 L184.66,30.13 L185.16,30.07 L185.66,30.01 L186.16,29.96 L186.65,29.90 L187.15,29.83 L187.65,29.77 L188.14,29.70 L188.64,29.63 L189.13,29.56 L189.63,29.48 L190.12,29.41 L190.62,29.33 L191.11,29.25 L191.61,29.17 L192.10,29.10 L192.60,29.02 L193.09,28.94 L193.58,28.86 L194.08,28.78 L194.57,28.71 L195.07,28.63 L195.56,28.56 L196.06,28.49 L196.56,28.42 L197.05,28.36 L197.55,28.29 L198.04,28.23 L198.54,28.18 L199.04,28.12 L199.54,28.07 L200.04,28.02 L200.53,27.97 L201.03,27.92 L201.53,27.87 L202.03,27.82 L202.53,27.77 L203.03,27.73 L203.52,27.68 L204.02,27.63 L204.52,27.57 L205.02,27.52 L205.51,27.46 L206.01,27.40 L206.51,27.34 L207.00,27.27 L207.50,27.20 L207.99,27.13 L208.49,27.05 L208.98,26.98 L209.47,26.89 L209.97,26.81 L210.46,26.72 L210.96,26.64 L211.45,26.55 L211.94,26.45 L212.43,26.36 L212.92,26.27 L213.42,26.17 L213.91,26.08 L214.40,25.98 L214.89,25.88 L215.38,25.78 L215.87,25.69 L216.36,25.59 L216.85,25.49 L217.34,25.39 L217.84,25.29 L218.33,25.18 L218.82,25.08 L219.31,24.97 L219.80,24.86 L220.29,24.75 L220.77,24.64 L221.26,24.53 L221.75,24.41 L222.23,24.29 L222.72,24.16 L223.20,24.04 L223.68,23.91 L224.16,23.77 L224.65,23.64 L225.13,23.50 L225.62,23.36 L226.11,23.21 L226.59,23.07 L227.08,22.91 L227.56,22.75 L228.03,22.59 L228.50,22.41 L228.97,22.23 L229.43,22.04 L229.88,21.85 L230.32,21.64 L230.75,21.42 L231.17,21.17 L231.58,20.90 L231.99,20.61 L232.39,20.30 L232.79,19.99 L233.18,19.66 L233.57,19.34 L233.96,19.01 L234.36,18.69 L234.75,18.38 L235.14,18.07 L235.52,17.75 L235.90,17.42 L236.28,17.09 L236.66,16.76 L237.03,16.43 L237.41,16.09 L237.78,15.76 L238.16,15.43 L238.54,15.10 L238.92,14.77 L239.30,14.45 L239.68,14.13 L240.07,13.82 L240.47,13.52 L240.87,13.22 L241.27,12.93 L241.68,12.63 L242.09,12.34 L242.50,12.05 L242.91,11.76 L243.33,11.48 L243.75,11.21 L244.17,10.94 L244.60,10.68 L245.03,10.42 L245.46,10.18 L245.90,9.93 L246.34,9.67 L246.78,9.40 L247.23,9.15 L247.68,8.91 L248.14,8.72 L248.61,8.57 L249.08,8.49 L249.57,8.44 L250.06,8.39 L250.57,8.35 L251.07,8.32 L251.58,8.30 L252.08,8.30 L252.58,8.30 L253.08,8.30 L253.58,8.30 L254.08,8.30 L254.58,8.30 L255.08,8.30 L255.58,8.30 L256.08,8.30 L256.58,8.30 L257.08,8.30 L257.58,8.30 L258.08,8.30 L258.58,8.30 L259.08,8.30 L259.58,8.30 L260.08,8.30 L260.58,8.30 L261.08,8.30 L261.58,8.30 L262.08,8.30 L262.58,8.30 L263.08,8.30 L263.58,8.30 L264.08,8.30 L264.58,8.30 L265.08,8.30 L265.58,8.30 L266.08,8.30 L266.58,8.30 L267.08,8.30 L267.58,8.30 L268.08,8.30 L268.58,8.30 L269.08,8.30 L269.58,8.30 L270.08,8.30 L270.58,8.30 L271.08,8.30 L271.58,8.30 L272.08,8.30 L272.58,8.30 L273.08,8.30 L273.58,8.30 L274.08,8.30 L274.58,8.30 L275.08,8.30 L275.58,8.30 L276.08,8.30 L276.58,8.30 L277.08,8.30 L277.58,8.30 L278.08,8.30 L278.58,8.30 L279.08,8.30 L279.58,8.30 L280.08,8.30 L280.58,8.30 L281.08,8.30 L281.58,8.30 L282.08,8.30 L282.58,8.30 L283.08,8.30 L283.58,8.30 L284.08,8.30 L284.57,8.30 L285.07,8.30 L285.57,8.30 L286.07,8.30 L286.57,8.30 L287.07,8.30 L287.57,8.30 L288.07,8.30 L288.57,8.30 L289.07,8.30 L289.57,8.30 L290.07,8.30 L290.57,8.30 L291.07,8.30 L291.57,8.30 L292.07,8.30 L292.57,8.30 L293.07,8.30 L293.57,8.30 L294.07,8.30 L294.57,8.30 L295.07,8.30 L295.57,8.30 L296.07,8.30 L296.57,8.30 L297.07,8.30 L297.57,8.30 L298.07,8.30 L298.57,8.30 L299.07,8.30 L299.57,8.30 L300.07,8.30 L300.57,8.30 L301.07,8.30 L301.57,8.30 L302.08,8.30 L302.58,8.30 L303.08,8.30 L303.58,8.30 L304.08,8.30 L304.58,8.30 L305.08,8.30 L305.58,8.30 L306.08,8.30 L306.58,8.30 L307.08,8.30 L307.58,8.30 L308.08,8.30 L308.58,8.30 L309.08,8.30 L309.58,8.30 L310.08,8.30 L310.58,8.30 L311.08,8.30 L311.58,8.30 L312.08,8.30 L312.58,8.30 L313.08,8.30 L313.58,8.30 L314.08,8.30 L314.58,8.30 L315.08,8.30 L315.58,8.30 L316.08,8.30 L316.58,8.30 L317.08,8.30 L317.58,8.30 L318.08,8.30 L318.58,8.30 L319.08,8.30 L319.58,8.30 L320.08,8.30 L320.58,8.30 L321.08,8.30 L321.58,8.30 L322.08,8.30 L322.58,8.30 L323.08,8.30 L323.58,8.30 L324.08,8.30 L324.58,8.30 L325.08,8.30 L325.58,8.30 L326.08,8.30 L326.58,8.30 L327.08,8.30 L327.58,8.30 L328.08,8.30 L328.58,8.30 L329.08,8.30 L329.58,8.30 L330.08,8.30 L330.58,8.30 L331.08,8.30 L331.58,8.30 L332.08,8.30 L332.58,8.30 L333.09,8.30 L333.59,8.30 L334.09,8.30 L334.59,8.30 L335.09,8.30 L335.59,8.30 L336.09,8.30 L336.59,8.30 L337.09,8.30 L337.59,8.30 L338.09,8.30 L338.59,8.30 L339.09,8.30 L339.59,8.30 L340.09,8.30 L340.59,8.30 L341.09,8.30 L341.59,8.30 L342.09,8.30 L342.59,8.30 L343.09,8.30 L343.59,8.30 L344.09,8.30 L344.59,8.30 L345.09,8.30 L345.59,8.30 L346.09,8.30 L346.59,8.30 L347.09,8.30 L347.59,8.30 L348.10,8.30 L348.60,8.30 L349.10,8.30 L349.60,8.30 L350.10,8.30 L350.60,8.30 L351.10,8.30 L351.60,8.30 L352.10,8.30 L352.60,8.30 L353.10,8.30 L353.60,8.30 L354.10,8.30 L354.60,8.30 L355.10,8.30 L355.60,8.30 L356.10,8.30 L356.60,8.30 L357.10,8.30 L357.60,8.30 L358.10,8.30 L358.60,8.30 L359.11,8.30 L359.61,8.30 L360.11,8.30 L360.61,8.30 L361.11,8.30 L361.61,8.30 L362.11,8.30 L362.61,8.30 L363.11,8.30 L363.61,8.30 L364.11,8.30 L364.61,8.30 L365.11,8.30 L365.61,8.30 L366.11,8.30 L366.61,8.30 L367.11,8.30 L367.61,8.30 L368.11,8.30 L368.62,8.30 L369.12,8.30 L369.62,8.30 L370.12,8.30 L370.62,8.30 L371.12,8.30 L371.62,8.30 L372.12,8.30 L372.62,8.30 L373.12,8.30 L373.62,8.30 L374.12,8.30 L374.62,8.30 L375.12,8.30 L375.62,8.30 L376.12,8.30 L376.63,8.30 L377.13,8.30 L377.63,8.30 L378.13,8.30 L378.63,8.30 L379.13,8.30 L379.63,8.30 L380.13,8.30 L380.63,8.30 L381.13,8.30 L381.63,8.30 L382.13,8.30 L382.63,8.30 L383.13,8.30 L383.64,8.30 L384.14,8.30 L384.64,8.30 L385.14,8.30 L385.64,8.30 L386.14,8.30 L386.64,8.30 L387.14,8.30 L387.64,8.30 L388.14,8.30 L388.64,8.30 L389.14,8.30 L389.64,8.30 L390.15,8.30 L390.65,8.30 L391.15,8.30 L391.65,8.30 L392.15,8.30 L392.65,8.30 L393.15,8.30 L393.65,8.30 L394.15,8.30 L394.65,8.30 L395.15,8.30 L395.66,8.30 L396.16,8.30 L396.66,8.30 L397.16,8.30 L397.66,8.30 L398.16,8.30 L398.66,8.30 L399.16,8.30 L399.66,8.30 L400.16,8.30 L400.66,8.30 L401.17,8.30 L401.67,8.30 L402.17,8.30 L402.67,8.30 L403.17,8.30 L403.67,8.30 L404.17,8.30 L404.67,8.30 L405.17,8.30 L405.67,8.30 L406.17,8.30 L406.68,8.30 L407.18,8.30 L407.68,8.30 L408.18,8.30 L408.68,8.30 L409.18,8.30 L409.68,8.30 L410.18,8.30 L410.68,8.30 L411.19,8.30 L411.69,8.30 L412.19,8.30 L412.69,8.30 L413.19,8.30 L413.69,8.30 L414.19,8.30 L414.69,8.30 L415.19,8.30 L415.69,8.30 L416.20,8.30 L416.70,8.30 L417.20,8.30 L417.70,8.30 L418.20,8.30 L418.70,8.30 L419.20,8.30 L419.70,8.30 L420.21,8.30 L420.71,8.30 L421.21,8.30 L421.71,8.30 L422.21,8.30 L422.71,8.30 L423.21,8.30 L423.71,8.30 L424.21,8.30 L424.72,8.30 L425.22,8.30 L425.72,8.30 L426.22,8.30 L426.72,8.30 L427.22,8.30 L427.72,8.30 L428.22,8.30 L428.73,8.30 L429.23,8.30 L429.73,8.30 L430.23,8.30 L430.73,8.30 L431.23,8.30 L431.73,8.30 L432.24,8.30 L432.74,8.30 L433.24,8.30 L433.74,8.30 L434.24,8.30 L434.74,8.30 L435.24,8.30 L435.74,8.30 L436.25,8.30 L436.75,8.30 L437.25,8.30 L437.75,8.30 L438.25,8.30 L438.75,8.30 L439.25,8.30 L439.76,8.30 L440.26,8.30 L440.76,8.30 L441.26,8.30 L441.76,8.30 L442.26,8.30 L442.76,8.30 L443.27,8.30 L443.77,8.30 L444.27,8.30 L444.77,8.30 L445.27,8.30 L445.77,8.30 L446.27,8.30 L446.78,8.30 L447.28,8.30 L447.78,8.30 L448.28,8.30 L448.78,8.30 L449.28,8.30 L449.79,8.30 L450.29,8.30 L450.79,8.30 L451.29,8.30 L451.79,8.30 L452.29,8.30 L452.80,8.30 L453.30,8.30 L453.80,8.30 L454.30,8.30" stroke="#ff0000" stroke-width="2.15" stroke-dasharray="7.0 3.3006" stroke-dashoffset="0.00"/>
<path d="M64.30,237.90 L64.66,237.53 L65.01,237.15 L65.33,236.77 L65.63,236.36 L65.90,235.95 L66.14,235.53 L66.35,235.09 L66.54,234.63 L66.71,234.16 L66.88,233.68 L67.04,233.20 L67.19,232.72 L67.35,232.24 L67.51,231.77 L67.67,231.29 L67.83,230.81 L67.98,230.34 L68.13,229.86 L68.28,229.38 L68.43,228.90 L68.59,228.43 L68.75,227.96 L68.93,227.49 L69.12,227.02 L69.31,226.55 L69.50,226.09 L69.68,225.62 L69.85,225.15 L69.98,224.67 L70.09,224.19 L70.20,223.71 L70.30,223.22 L70.39,222.73 L70.47,222.23 L70.55,221.74 L70.63,221.24 L70.70,220.74 L70.77,220.25 L70.84,219.75 L70.91,219.25 L70.99,218.75 L71.06,218.26 L71.14,217.76 L71.21,217.27 L71.29,216.77 L71.37,216.28 L71.44,215.78 L71.52,215.29 L71.59,214.79 L71.67,214.30 L71.74,213.80 L71.81,213.31 L71.88,212.81 L71.96,212.32 L72.03,211.82 L72.10,211.33 L72.17,210.83 L72.24,210.33 L72.31,209.84 L72.38,209.34 L72.45,208.85 L72.52,208.35 L72.59,207.86 L72.65,207.36 L72.72,206.86 L72.79,206.37 L72.85,205.87 L72.92,205.38 L72.99,204.88 L73.05,204.38 L73.12,203.89 L73.18,203.39 L73.25,202.89 L73.31,202.40 L73.37,201.90 L73.44,201.40 L73.50,200.91 L73.57,200.41 L73.63,199.91 L73.69,199.42 L73.76,198.92 L73.82,198.43 L73.89,197.93 L73.95,197.43 L74.02,196.94 L74.08,196.44 L74.15,195.94 L74.22,195.45 L74.28,194.95 L74.35,194.46 L74.42,193.96 L74.49,193.46 L74.56,192.97 L74.62,192.47 L74.69,191.98 L74.76,191.48 L74.83,190.98 L74.90,190.49 L74.97,189.99 L75.04,189.50 L75.11,189.00 L75.18,188.50 L75.25,188.01 L75.32,187.51 L75.39,187.02 L75.46,186.52 L75.53,186.03 L75.61,185.53 L75.68,185.04 L75.75,184.54 L75.83,184.05 L75.90,183.55 L75.98,183.06 L76.06,182.56 L76.14,182.07 L76.22,181.57 L76.30,181.08 L76.38,180.59 L76.46,180.09 L76.54,179.60 L76.62,179.10 L76.70,178.61 L76.78,178.12 L76.86,177.62 L76.94,177.13 L77.03,176.63 L77.11,176.14 L77.19,175.65 L77.27,175.15 L77.35,174.66 L77.43,174.16 L77.51,173.67 L77.59,173.17 L77.67,172.68 L77.74,172.19 L77.82,171.69 L77.90,171.20 L77.97,170.70 L78.04,170.21 L78.12,169.71 L78.19,169.22 L78.26,168.72 L78.33,168.23 L78.40,167.73 L78.47,167.23 L78.54,166.74 L78.61,166.24 L78.68,165.75 L78.75,165.25 L78.82,164.75 L78.89,164.26 L78.96,163.76 L79.02,163.27 L79.09,162.77 L79.16,162.27 L79.23,161.78 L79.29,161.28 L79.36,160.79 L79.43,160.29 L79.50,159.79 L79.57,159.30 L79.63,158.80 L79.70,158.31 L79.77,157.81 L79.84,157.32 L79.91,156.82 L79.98,156.32 L80.05,155.83 L80.12,155.33 L80.20,154.84 L80.27,154.34 L80.34,153.85 L80.41,153.35 L80.48,152.86 L80.55,152.36 L80.62,151.86 L80.69,151.37 L80.76,150.87 L80.83,150.38 L80.90,149.88 L80.97,149.39 L81.05,148.89 L81.12,148.39 L81.19,147.90 L81.26,147.40 L81.33,146.91 L81.41,146.41 L81.48,145.92 L81.55,145.42 L81.63,144.93 L81.70,144.43 L81.77,143.94 L81.85,143.44 L81.92,142.95 L82.00,142.45 L82.08,141.96 L82.15,141.46 L82.23,140.97 L82.31,140.47 L82.39,139.98 L82.47,139.49 L82.55,138.99 L82.63,138.50 L82.72,138.01 L82.80,137.51 L82.88,137.02 L82.96,136.52 L83.05,136.03 L83.13,135.54 L83.22,135.04 L83.30,134.55 L83.39,134.06 L83.48,133.56 L83.56,133.07 L83.65,132.58 L83.74,132.08 L83.83,131.59 L83.91,131.10 L84.00,130.61 L84.09,130.11 L84.18,129.62 L84.28,129.13 L84.37,128.64 L84.46,128.14 L84.55,127.65 L84.65,127.16 L84.74,126.67 L84.84,126.17 L84.93,125.68 L85.03,125.19 L85.12,124.70 L85.22,124.21 L85.32,123.72 L85.42,123.23 L85.52,122.74 L85.62,122.25 L85.72,121.76 L85.82,121.27 L85.92,120.78 L86.03,120.29 L86.13,119.80 L86.23,119.31 L86.34,118.82 L86.44,118.33 L86.55,117.84 L86.66,117.35 L86.77,116.87 L86.87,116.38 L86.98,115.89 L87.09,115.40 L87.20,114.91 L87.32,114.42 L87.43,113.93 L87.54,113.44 L87.66,112.95 L87.77,112.47 L87.89,111.98 L88.00,111.49 L88.12,111.00 L88.24,110.51 L88.36,110.03 L88.48,109.54 L88.61,109.06 L88.73,108.57 L88.86,108.08 L88.98,107.60 L89.11,107.12 L89.24,106.63 L89.37,106.15 L89.50,105.67 L89.64,105.18 L89.77,104.70 L89.91,104.22 L90.04,103.74 L90.18,103.26 L90.32,102.79 L90.47,102.31 L90.61,101.83 L90.76,101.36 L90.91,100.88 L91.07,100.41 L91.23,99.93 L91.39,99.46 L91.55,98.99 L91.72,98.52 L91.89,98.05 L92.06,97.58 L92.24,97.11 L92.41,96.64 L92.59,96.17 L92.77,95.71 L92.95,95.24 L93.14,94.77 L93.32,94.31 L93.51,93.84 L93.69,93.37 L93.88,92.91 L94.06,92.44 L94.25,91.98 L94.44,91.51 L94.62,91.04 L94.81,90.58 L95.00,90.11 L95.18,89.65 L95.37,89.18 L95.55,88.71 L95.73,88.25 L95.91,87.78 L96.09,87.31 L96.27,86.84 L96.45,86.37 L96.62,85.90 L96.79,85.43 L96.96,84.96 L97.13,84.49 L97.29,84.01 L97.46,83.54 L97.63,83.06 L97.79,82.59 L97.96,82.11 L98.12,81.64 L98.29,81.16 L98.46,80.69 L98.63,80.22 L98.81,79.75 L98.98,79.28 L99.16,78.82 L99.35,78.35 L99.54,77.89 L99.73,77.44 L99.93,76.98 L100.13,76.53 L100.34,76.08 L100.55,75.63 L100.77,75.18 L101.00,74.74 L101.22,74.29 L101.45,73.85 L101.69,73.40 L101.93,72.96 L102.17,72.52 L102.42,72.09 L102.67,71.65 L102.92,71.21 L103.18,70.78 L103.44,70.35 L103.70,69.92 L103.96,69.49 L104.23,69.06 L104.50,68.64 L104.77,68.21 L105.04,67.79 L105.31,67.37 L105.59,66.95 L105.87,66.54 L106.15,66.12 L106.43,65.71 L106.71,65.30 L106.99,64.89 L107.28,64.48 L107.58,64.08 L107.88,63.67 L108.18,63.27 L108.49,62.87 L108.80,62.48 L109.12,62.09 L109.44,61.70 L109.76,61.32 L110.09,60.95 L110.42,60.58 L110.76,60.21 L111.11,59.85 L111.46,59.50 L111.82,59.16 L112.19,58.81 L112.55,58.47 L112.93,58.14 L113.30,57.80 L113.67,57.47 L114.05,57.13 L114.42,56.79 L114.79,56.46 L115.16,56.11 L115.52,55.77 L115.88,55.42 L116.23,55.06 L116.58,54.70 L116.93,54.33 L117.28,53.98 L117.64,53.63 L118.01,53.30 L118.39,52.99 L118.78,52.68 L119.18,52.38 L119.58,52.08 L119.99,51.79 L120.40,51.50 L120.82,51.22 L121.23,50.94 L121.65,50.66 L122.07,50.37 L122.48,50.09 L122.89,49.80 L123.30,49.51 L123.71,49.22 L124.11,48.92 L124.50,48.61 L124.89,48.29 L125.28,47.97 L125.67,47.65 L126.05,47.34 L126.45,47.03 L126.85,46.73 L127.26,46.45 L127.67,46.17 L128.09,45.89 L128.51,45.62 L128.93,45.35 L129.36,45.09 L129.79,44.83 L130.22,44.57 L130.65,44.32 L131.09,44.07 L131.52,43.82 L131.96,43.57 L132.39,43.32 L132.83,43.08 L133.26,42.84 L133.70,42.60 L134.14,42.36 L134.59,42.12 L135.03,41.89 L135.47,41.65 L135.92,41.42 L136.37,41.20 L136.81,40.97 L137.26,40.75 L137.71,40.53 L138.16,40.31 L138.61,40.10 L139.07,39.89 L139.52,39.67 L139.97,39.46 L140.43,39.26 L140.89,39.05 L141.34,38.85 L141.80,38.65 L142.26,38.45 L142.72,38.25 L143.19,38.05 L143.65,37.86 L144.11,37.67 L144.58,37.49 L145.04,37.30 L145.51,37.12 L145.97,36.94 L146.45,36.77 L146.92,36.61 L147.39,36.44 L147.86,36.28 L148.34,36.11 L148.81,35.95 L149.28,35.79 L149.75,35.62 L150.22,35.45 L150.69,35.27 L151.16,35.10 L151.63,34.92 L152.10,34.75 L152.57,34.57 L153.04,34.39 L153.51,34.22 L153.98,34.04 L154.45,33.87 L154.91,33.69 L155.38,33.52 L155.86,33.35 L156.33,33.18 L156.80,33.01 L157.27,32.84 L157.74,32.67 L158.21,32.49 L158.68,32.32 L159.15,32.15 L159.63,31.98 L160.10,31.82 L160.57,31.66 L161.05,31.51 L161.53,31.36 L162.01,31.23 L162.49,31.09 L162.97,30.97 L163.45,30.84 L163.94,30.72 L164.42,30.60 L164.91,30.48 L165.40,30.37 L165.89,30.26 L166.38,30.15 L166.87,30.04 L167.36,29.94 L167.85,29.84 L168.34,29.73 L168.83,29.63 L169.32,29.54 L169.81,29.44 L170.30,29.34 L170.80,29.24 L171.29,29.14 L171.78,29.05 L172.27,28.95 L172.76,28.86 L173.25,28.77 L173.75,28.67 L174.24,28.58 L174.73,28.49 L175.22,28.41 L175.72,28.32 L176.21,28.24 L176.71,28.15 L177.20,28.07 L177.69,27.99 L178.19,27.92 L178.68,27.85 L179.18,27.77 L179.67,27.71 L180.17,27.65 L180.67,27.59 L181.17,27.53 L181.66,27.48 L182.16,27.42 L182.66,27.37 L183.16,27.32 L183.66,27.27 L184.16,27.22 L184.66,27.16 L185.15,27.10 L185.65,27.04 L186.15,26.98 L186.64,26.91 L187.13,26.84 L187.63,26.76 L188.12,26.67 L188.61,26.57 L189.10,26.46 L189.59,26.35 L190.07,26.23 L190.56,26.12 L191.05,26.01 L191.54,25.91 L192.03,25.82 L192.52,25.73 L193.02,25.63 L193.51,25.55 L194.00,25.46 L194.50,25.37 L194.99,25.29 L195.48,25.21 L195.98,25.12 L196.47,25.04 L196.97,24.96 L197.46,24.88 L197.95,24.81 L198.45,24.73 L198.94,24.66 L199.44,24.58 L199.93,24.51 L200.43,24.44 L200.93,24.37 L201.42,24.30 L201.92,24.23 L202.41,24.16 L202.91,24.09 L203.41,24.02 L203.90,23.96 L204.40,23.89 L204.89,23.82 L205.39,23.75 L205.89,23.68 L206.38,23.62 L206.88,23.55 L207.37,23.48 L207.87,23.41 L208.36,23.34 L208.86,23.26 L209.36,23.19 L209.85,23.12 L210.35,23.05 L210.84,22.98 L211.34,22.90 L211.83,22.83 L212.33,22.76 L212.83,22.69 L213.32,22.62 L213.82,22.55 L214.31,22.48 L214.81,22.41 L215.30,22.35 L215.80,22.28 L216.30,22.22 L216.79,22.15 L217.29,22.09 L217.79,22.04 L218.28,21.98 L218.78,21.92 L219.28,21.87 L219.78,21.82 L220.27,21.77 L220.77,21.72 L221.27,21.67 L221.77,21.62 L222.27,21.57 L222.76,21.53 L223.26,21.48 L223.76,21.44 L224.26,21.39 L224.76,21.35 L225.26,21.31 L225.76,21.26 L226.26,21.22 L226.75,21.18 L227.25,21.14 L227.75,21.10 L228.25,21.06 L228.75,21.02 L229.25,20.98 L229.75,20.94 L230.25,20.90 L230.75,20.86 L231.25,20.82 L231.75,20.78 L232.25,20.75 L232.75,20.71 L233.24,20.67 L233.74,20.63 L234.24,20.59 L234.74,20.55 L235.24,20.51 L235.74,20.47 L236.24,20.44 L236.74,20.40 L237.24,20.36 L237.74,20.33 L238.24,20.29 L238.74,20.25 L239.23,20.22 L239.73,20.18 L240.23,20.15 L240.73,20.11 L241.23,20.08 L241.73,20.04 L242.23,20.00 L242.73,19.97 L243.23,19.93 L243.73,19.90 L244.23,19.86 L244.73,19.82 L245.23,19.79 L245.73,19.75 L246.22,19.71 L246.72,19.68 L247.22,19.64 L247.72,19.60 L248.22,19.56 L248.72,19.52 L249.22,19.48 L249.72,19.43 L250.22,19.39 L250.72,19.35 L251.21,19.31 L251.71,19.26 L252.21,19.22 L252.71,19.18 L253.21,19.14 L253.71,19.09 L254.21,19.05 L254.71,19.01 L255.21,18.97 L255.70,18.93 L256.20,18.89 L256.70,18.85 L257.20,18.81 L257.70,18.77 L258.20,18.73 L258.70,18.69 L259.20,18.66 L259.70,18.62 L260.20,18.59 L260.70,18.56 L261.20,18.52 L261.70,18.49 L262.19,18.46 L262.69,18.44 L263.19,18.41 L263.69,18.38 L264.19,18.36 L264.69,18.33 L265.19,18.31 L265.69,18.28 L266.19,18.26 L266.69,18.24 L267.19,18.21 L267.69,18.19 L268.19,18.17 L268.69,18.14 L269.19,18.12 L269.69,18.10 L270.20,18.08 L270.70,18.05 L271.20,18.03 L271.70,18.01 L272.20,17.98 L272.70,17.96 L273.20,17.93 L273.70,17.91 L274.20,17.88 L274.70,17.85 L275.19,17.82 L275.69,17.79 L276.19,17.76 L276.69,17.74 L277.19,17.71 L277.69,17.67 L278.19,17.64 L278.69,17.61 L279.19,17.58 L279.69,17.55 L280.19,17.52 L280.69,17.49 L281.19,17.46 L281.69,17.42 L282.19,17.39 L282.69,17.36 L283.19,17.33 L283.69,17.30 L284.19,17.27 L284.69,17.24 L285.19,17.21 L285.69,17.18 L286.19,17.15 L286.69,17.13 L287.19,17.10 L287.69,17.07 L288.19,17.05 L288.69,17.02 L289.19,17.00 L289.69,16.97 L290.19,16.95 L290.69,16.93 L291.19,16.90 L291.69,16.88 L292.19,16.86 L292.69,16.84 L293.19,16.82 L293.69,16.80 L294.19,16.78 L294.69,16.76 L295.19,16.74 L295.69,16.72 L296.19,16.70 L296.69,16.68 L297.19,16.67 L297.69,16.65 L298.19,16.63 L298.69,16.61 L299.19,16.59 L299.69,16.57 L300.19,16.55 L300.69,16.53 L301.19,16.50 L301.69,16.48 L302.19,16.46 L302.69,16.44 L303.19,16.42 L303.69,16.39 L304.19,16.37 L304.69,16.34 L305.19,16.32 L305.69,16.29 L306.19,16.27 L306.69,16.25 L307.19,16.22 L307.69,16.20 L308.19,16.17 L308.69,16.15 L309.19,16.12 L309.69,16.10 L310.19,16.07 L310.69,16.05 L311.19,16.03 L311.69,16.00 L312.19,15.98 L312.69,15.96 L313.19,15.94 L313.69,15.92 L314.19,15.89 L314.69,15.87 L315.19,15.86 L315.69,15.84 L316.19,15.82 L316.69,15.80 L317.19,15.79 L317.69,15.77 L318.20,15.76 L318.70,15.74 L319.20,15.73 L319.70,15.72 L320.20,15.70 L320.70,15.69 L321.20,15.68 L321.70,15.67 L322.20,15.66 L322.70,15.64 L323.20,15.63 L323.70,15.62 L324.20,15.61 L324.70,15.60 L325.20,15.59 L325.70,15.58 L326.20,15.56 L326.70,15.55 L327.20,15.54 L327.70,15.53 L328.20,15.51 L328.70,15.50 L329.21,15.49 L329.71,15.47 L330.21,15.46 L330.71,15.44 L331.21,15.43 L331.71,15.42 L332.21,15.40 L332.71,15.39 L333.21,15.37 L333.71,15.36 L334.21,15.34 L334.71,15.33 L335.21,15.31 L335.71,15.30 L336.21,15.28 L336.71,15.27 L337.21,15.25 L337.71,15.24 L338.21,15.22 L338.71,15.21 L339.21,15.19 L339.71,15.18 L340.21,15.16 L340.71,15.14 L341.21,15.13 L341.71,15.11 L342.21,15.10 L342.72,15.08 L343.22,15.07 L343.72,15.05 L344.22,15.03 L344.72,15.02 L345.22,15.00 L345.72,14.98 L346.22,14.97 L346.72,14.95 L347.22,14.94 L347.72,14.92 L348.22,14.90 L348.72,14.89 L349.22,14.87 L349.72,14.85 L350.22,14.84 L350.72,14.82 L351.22,14.80 L351.72,14.79 L352.22,14.77 L352.72,14.75 L353.22,14.73 L353.72,14.72 L354.22,14.70 L354.72,14.68 L355.22,14.67 L355.72,14.65 L356.22,14.63 L356.72,14.61 L357.22,14.60 L357.72,14.58 L358.23,14.56 L358.73,14.54 L359.23,14.53 L359.73,14.51 L360.23,14.49 L360.73,14.47 L361.23,14.46 L361.73,14.44 L362.23,14.42 L362.73,14.40 L363.23,14.38 L363.73,14.36 L364.23,14.34 L364.73,14.32 L365.23,14.30 L365.73,14.28 L366.23,14.26 L366.73,14.24 L367.23,14.22 L367.73,14.20 L368.23,14.18 L368.73,14.16 L369.23,14.14 L369.73,14.12 L370.23,14.10 L370.73,14.08 L371.23,14.06 L371.73,14.04 L372.23,14.02 L372.73,14.00 L373.23,13.97 L373.73,13.95 L374.23,13.93 L374.73,13.91 L375.23,13.89 L375.73,13.87 L376.23,13.85 L376.73,13.83 L377.23,13.81 L377.73,13.79 L378.23,13.77 L378.73,13.75 L379.23,13.72 L379.73,13.70 L380.23,13.68 L380.73,13.66 L381.23,13.64 L381.74,13.62 L382.24,13.61 L382.74,13.59 L383.24,13.57 L383.74,13.55 L384.24,13.53 L384.74,13.51 L385.24,13.49 L385.74,13.47 L386.24,13.46 L386.74,13.44 L387.24,13.42 L387.74,13.40 L388.24,13.39 L388.74,13.37 L389.24,13.35 L389.74,13.34 L390.24,13.32 L390.74,13.31 L391.24,13.29 L391.74,13.28 L392.24,13.26 L392.74,13.25 L393.24,13.24 L393.74,13.22 L394.24,13.21 L394.74,13.19 L395.24,13.18 L395.74,13.17 L396.24,13.15 L396.74,13.14 L397.24,13.13 L397.75,13.11 L398.25,13.10 L398.75,13.09 L399.25,13.07 L399.75,13.06 L400.25,13.05 L400.75,13.04 L401.25,13.02 L401.75,13.01 L402.25,13.00 L402.75,12.99 L403.25,12.98 L403.75,12.96 L404.25,12.95 L404.75,12.94 L405.25,12.93 L405.75,12.92 L406.25,12.91 L406.75,12.89 L407.25,12.88 L407.75,12.87 L408.25,12.86 L408.76,12.85 L409.26,12.84 L409.76,12.83 L410.26,12.81 L410.76,12.80 L411.26,12.79 L411.76,12.78 L412.26,12.77 L412.76,12.76 L413.26,12.75 L413.76,12.74 L414.26,12.73 L414.76,12.72 L415.26,12.70 L415.76,12.69 L416.26,12.68 L416.76,12.67 L417.26,12.66 L417.76,12.65 L418.26,12.64 L418.76,12.63 L419.27,12.62 L419.77,12.61 L420.27,12.59 L420.77,12.58 L421.27,12.57 L421.77,12.56 L422.27,12.55 L422.77,12.54 L423.27,12.53 L423.77,12.52 L424.27,12.51 L424.77,12.50 L425.27,12.48 L425.77,12.47 L426.27,12.46 L426.77,12.45 L427.27,12.44 L427.77,12.43 L428.27,12.42 L428.77,12.41 L429.28,12.40 L429.78,12.39 L430.28,12.38 L430.78,12.37 L431.28,12.36 L431.78,12.35 L432.28,12.33 L432.78,12.32 L433.28,12.31 L433.78,12.30 L434.28,12.29 L434.78,12.28 L435.28,12.27 L435.78,12.26 L436.28,12.25 L436.78,12.24 L437.28,12.23 L437.78,12.22 L438.28,12.21 L438.78,12.20 L439.28,12.19 L439.79,12.18 L440.29,12.17 L440.79,12.16 L441.29,12.15 L441.79,12.14 L442.29,12.13 L442.79,12.12 L443.29,12.11 L443.79,12.10 L444.29,12.09 L444.79,12.08 L445.29,12.07 L445.79,12.06 L446.29,12.05 L446.79,12.04 L447.29,12.03 L447.79,12.02 L448.29,12.01 L448.79,12.00 L449.29,11.99 L449.80,11.98 L450.30,11.97 L450.80,11.97 L451.30,11.96 L451.80,11.95 L452.30,11.94 L452.80,11.93 L453.30,11.92 L453.80,11.91 L454.30,11.90" stroke="#808080" stroke-width="2.35" stroke-dasharray="15.9 11.616" stroke-dashoffset="0.00"/>
</g>
<g fill="none" stroke="#6a6a6a" stroke-width="0.85">
<rect x="56.6" y="0.0" width="404.60" height="250.30"/>
<path d="M64.40,250.3 v-4.7 M64.40,0.0 v4.7 M83.86,250.3 v-2.9 M83.86,0.0 v2.9 M103.31,250.3 v-2.9 M103.31,0.0 v2.9 M122.77,250.3 v-2.9 M122.77,0.0 v2.9 M142.22,250.3 v-2.9 M142.22,0.0 v2.9 M161.68,250.3 v-4.7 M161.68,0.0 v4.7 M181.13,250.3 v-2.9 M181.13,0.0 v2.9 M200.59,250.3 v-2.9 M200.59,0.0 v2.9 M220.04,250.3 v-2.9 M220.04,0.0 v2.9 M239.49,250.3 v-2.9 M239.49,0.0 v2.9 M258.95,250.3 v-4.7 M258.95,0.0 v4.7 M278.40,250.3 v-2.9 M278.40,0.0 v2.9 M297.86,250.3 v-2.9 M297.86,0.0 v2.9 M317.31,250.3 v-2.9 M317.31,0.0 v2.9 M336.77,250.3 v-2.9 M336.77,0.0 v2.9 M356.23,250.3 v-4.7 M356.23,0.0 v4.7 M375.68,250.3 v-2.9 M375.68,0.0 v2.9 M395.13,250.3 v-2.9 M395.13,0.0 v2.9 M414.59,250.3 v-2.9 M414.59,0.0 v2.9 M434.04,250.3 v-2.9 M434.04,0.0 v2.9 M453.50,250.3 v-4.7 M453.50,0.0 v4.7 M56.6,8.30 h4.4 M461.2,8.30 h-4.4 M56.6,22.74 h3.0 M461.2,22.74 h-3.0 M56.6,37.17 h3.0 M461.2,37.17 h-3.0 M56.6,51.61 h3.0 M461.2,51.61 h-3.0 M56.6,66.05 h4.4 M461.2,66.05 h-4.4 M56.6,80.49 h3.0 M461.2,80.49 h-3.0 M56.6,94.92 h3.0 M461.2,94.92 h-3.0 M56.6,109.36 h3.0 M461.2,109.36 h-3.0 M56.6,123.80 h4.4 M461.2,123.80 h-4.4 M56.6,138.24 h3.0 M461.2,138.24 h-3.0 M56.6,152.68 h3.0 M461.2,152.68 h-3.0 M56.6,167.11 h3.0 M461.2,167.11 h-3.0 M56.6,181.55 h4.4 M461.2,181.55 h-4.4 M56.6,195.99 h3.0 M461.2,195.99 h-3.0 M56.6,210.43 h3.0 M461.2,210.43 h-3.0 M56.6,224.86 h3.0 M461.2,224.86 h-3.0 M56.6,239.30 h4.4 M461.2,239.30 h-4.4"/>
</g>
<g font-family="'Liberation Serif', serif" font-size="13.2px" fill="#000">
<text x="52.25" y="10.90" text-anchor="end">0.0</text>
<text x="52.25" y="68.65" text-anchor="end">0.2</text>
<text x="36.7" y="69.10" text-anchor="end" font-size="14.3px">−</text>
<text x="52.25" y="126.40" text-anchor="end">0.4</text>
<text x="36.7" y="126.85" text-anchor="end" font-size="14.3px">−</text>
<text x="52.25" y="184.15" text-anchor="end">0.6</text>
<text x="36.7" y="184.60" text-anchor="end" font-size="14.3px">−</text>
<text x="52.25" y="241.90" text-anchor="end">0.8</text>
<text x="36.7" y="242.35" text-anchor="end" font-size="14.3px">−</text>
<text x="64.60" y="262.9" text-anchor="middle">0</text>
<text x="161.88" y="262.9" text-anchor="middle">5</text>
<text x="259.15" y="262.9" text-anchor="middle">10</text>
<text x="356.43" y="262.9" text-anchor="middle">15</text>
<text x="453.70" y="262.9" text-anchor="middle">20</text>
</g>
<g font-family="'Liberation Serif', serif" fill="#000">
<text x="259.7" y="289.6" font-size="20.5px" text-anchor="middle">r</text>
<g transform="translate(16.2,130.7) rotate(-90) scale(1.07)" fill="none" stroke="#000" stroke-linecap="round" stroke-linejoin="round"><path d="M1.0,-6.9 Q1.5,-8.2 2.9,-8.3 L9.8,-8.85" stroke-width="1.25"/><path d="M4.7,-8.3 C4.4,-5.6 3.4,-2.8 1.6,-1.4" stroke-width="0.95"/><path d="M1.9,-1.7 L0.7,-0.75" stroke-width="1.7"/><path d="M7.9,-8.5 L6.85,-2.4" stroke-width="1.05"/><path d="M6.85,-2.6 L6.75,-1.3 Q6.9,-0.7 7.6,-1.2" stroke-width="1.5"/></g>
</g>
<g fill="none" stroke-width="2.05">
<path d="M342.0,81.95 H364.9" stroke="#000"/>
<path d="M342.0,112.95 H364.9" stroke="#800080" stroke-dasharray="3.3 3.1"/>
<path d="M342.0,142.5 H364.9" stroke="#0000ff" stroke-dasharray="3.4 3.2 7.0 3.2"/>
<path d="M342.0,172.1 H362" stroke="#ff0000" stroke-dasharray="7.0 3.3"/>
<path d="M362.8,172.29999999999998 H365.8" stroke="#ff5050" stroke-width="0.6"/>
<path d="M342.0,202.9 H364.9" stroke="#808080"/>
</g>
<g font-family="'Liberation Serif', serif" font-size="19.3px" fill="#000">
<text x="374.8" y="88.00">t</text>
<text x="385.1" y="89.50" font-size="21.5px">=</text>
<text x="402.6" y="88.00">0</text>
<text x="374.8" y="119.00">t</text>
<text x="385.1" y="120.50" font-size="21.5px">=</text>
<text x="402.6" y="119.00">0.75</text>
<text x="374.8" y="148.55">t</text>
<text x="385.1" y="150.05" font-size="21.5px">=</text>
<text x="402.6" y="148.55">4</text>
<text x="374.8" y="178.15">t</text>
<text x="385.1" y="179.65" font-size="21.5px">=</text>
<text x="402.6" y="178.15">9</text>
<g transform="translate(374.5,209.20)" fill="none" stroke="#000" stroke-linecap="round" stroke-linejoin="round"><path d="M1.0,-6.9 Q1.5,-8.2 2.9,-8.3 L9.8,-8.85" stroke-width="1.25"/><path d="M4.7,-8.3 C4.4,-5.6 3.4,-2.8 1.6,-1.4" stroke-width="0.95"/><path d="M1.9,-1.7 L0.7,-0.75" stroke-width="1.7"/><path d="M7.9,-8.5 L6.85,-2.4" stroke-width="1.05"/><path d="M6.85,-2.6 L6.75,-1.3 Q6.9,-0.7 7.6,-1.2" stroke-width="1.5"/></g>
<text x="385.4" y="212.80" font-size="14px">+</text>
<text x="394.8" y="209.20">(r)</text>
</g>
</svg>
</div>
</body></html>
